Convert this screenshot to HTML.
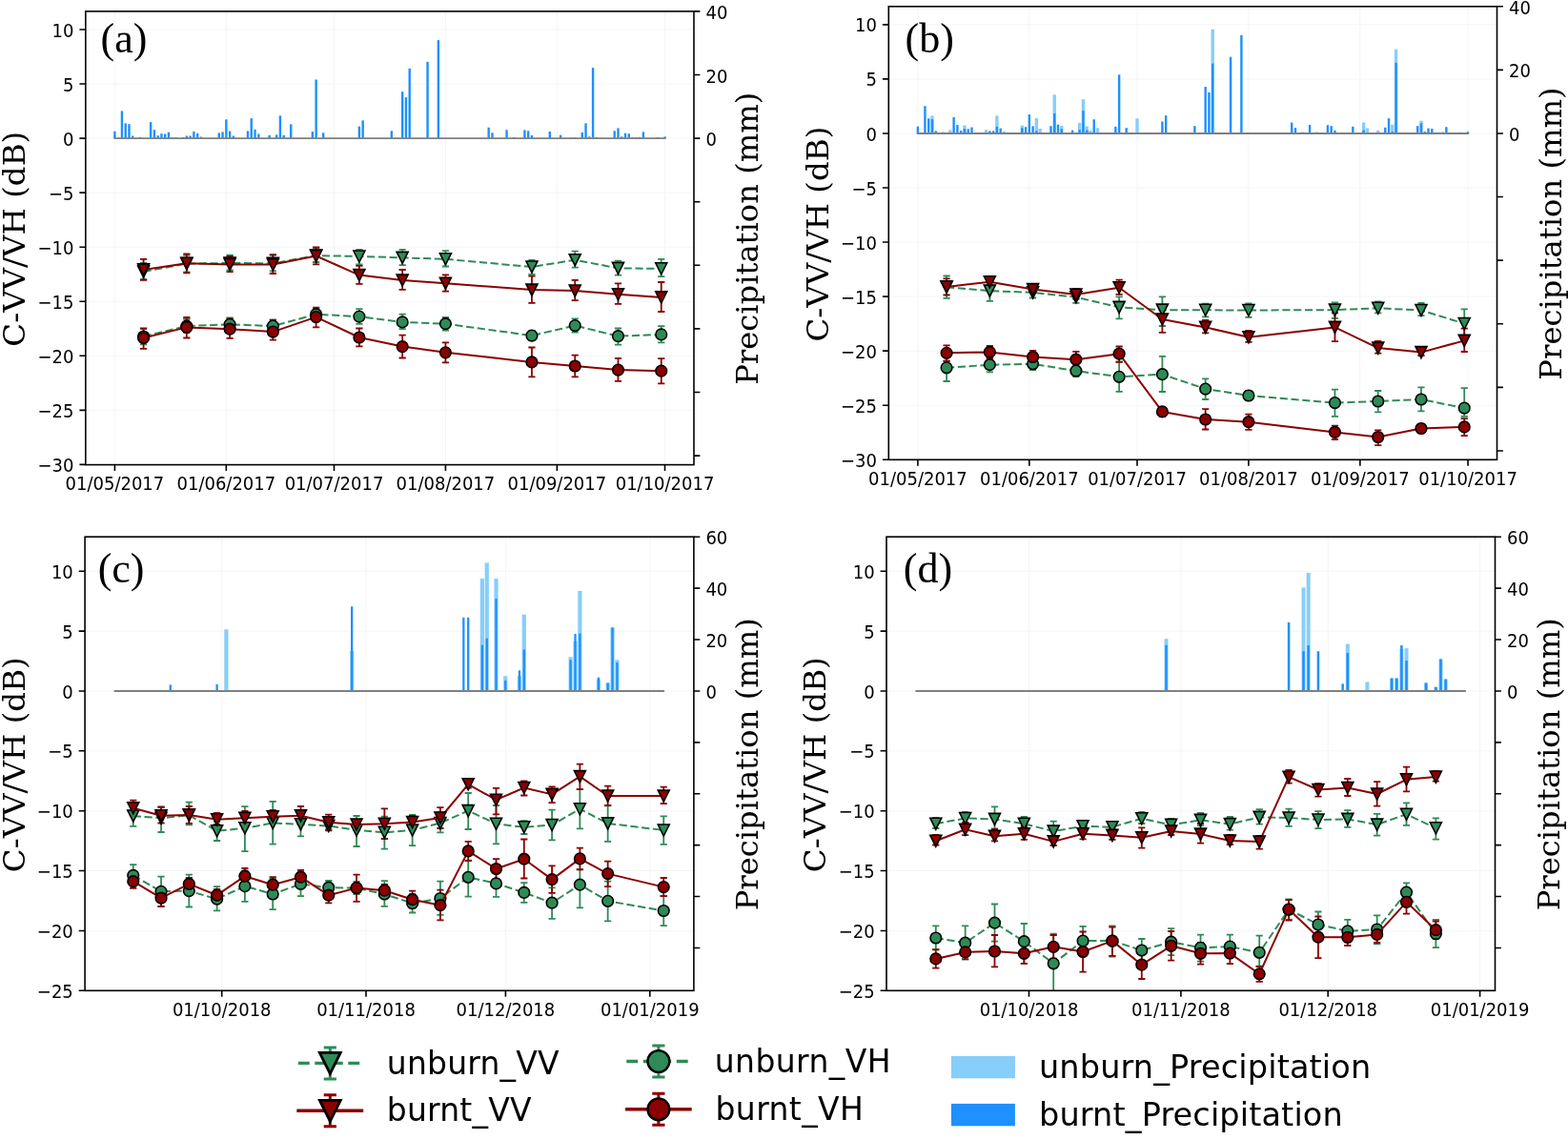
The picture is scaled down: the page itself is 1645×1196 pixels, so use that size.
<!DOCTYPE html><html><head><meta charset="utf-8"><title>C-VV/VH backscatter and precipitation</title>
<style>html,body{margin:0;padding:0;background:#fff;}svg{display:block;}</style></head><body>
<svg width="1645" height="1196" viewBox="0 0 1645 1196">
<rect width="1645" height="1196" fill="#fff"/>
<g id="panel-a">
<defs><clipPath id="clip-a"><rect x="89.8" y="11.9" width="638.2" height="475.7"/></clipPath></defs>
<path d="M89.8 31H728M89.8 88.05H728M89.8 145.1H728M89.8 202.15H728M89.8 259.2H728M89.8 316.25H728M89.8 373.3H728M89.8 430.35H728M120.4 11.9V487.6M237.33 11.9V487.6M350.49 11.9V487.6M467.42 11.9V487.6M584.36 11.9V487.6M697.52 11.9V487.6" stroke="#f5f5f5" stroke-width="1" fill="none"/>
<g clip-path="url(#clip-a)">
<rect x="119.2" y="137.8" width="2.4" height="7.3" fill="#1e90ff"/>
<rect x="122.97" y="144.5" width="2.4" height="0.6" fill="#1e90ff"/>
<rect x="126.74" y="116.4" width="2.4" height="28.7" fill="#1e90ff"/>
<rect x="130.52" y="129.4" width="2.4" height="15.7" fill="#1e90ff"/>
<rect x="134.29" y="130.2" width="2.4" height="14.9" fill="#1e90ff"/>
<rect x="138.06" y="142.5" width="2.4" height="2.6" fill="#1e90ff"/>
<rect x="145.6" y="143.8" width="2.4" height="1.3" fill="#1e90ff"/>
<rect x="156.92" y="128.1" width="2.4" height="17" fill="#1e90ff"/>
<rect x="160.69" y="136.2" width="2.4" height="8.9" fill="#1e90ff"/>
<rect x="164.46" y="142.2" width="2.4" height="2.9" fill="#1e90ff"/>
<rect x="168.24" y="140.2" width="2.4" height="4.9" fill="#1e90ff"/>
<rect x="172.01" y="140.5" width="2.4" height="4.6" fill="#1e90ff"/>
<rect x="175.78" y="138.7" width="2.4" height="6.4" fill="#1e90ff"/>
<rect x="179.55" y="144.1" width="2.4" height="1" fill="#1e90ff"/>
<rect x="183.32" y="144.1" width="2.4" height="1" fill="#1e90ff"/>
<rect x="190.87" y="144.1" width="2.4" height="1" fill="#1e90ff"/>
<rect x="194.64" y="142.5" width="2.4" height="2.6" fill="#1e90ff"/>
<rect x="198.41" y="142.5" width="2.4" height="2.6" fill="#1e90ff"/>
<rect x="202.18" y="138" width="2.4" height="7.1" fill="#1e90ff"/>
<rect x="205.96" y="139.8" width="2.4" height="5.3" fill="#1e90ff"/>
<rect x="209.73" y="143.5" width="2.4" height="1.6" fill="#1e90ff"/>
<rect x="228.59" y="139.4" width="2.4" height="5.7" fill="#1e90ff"/>
<rect x="232.36" y="138.4" width="2.4" height="6.7" fill="#1e90ff"/>
<rect x="236.13" y="125.3" width="2.4" height="19.8" fill="#1e90ff"/>
<rect x="239.9" y="137.5" width="2.4" height="7.6" fill="#1e90ff"/>
<rect x="243.68" y="142.5" width="2.4" height="2.6" fill="#1e90ff"/>
<rect x="258.76" y="137.4" width="2.4" height="7.7" fill="#1e90ff"/>
<rect x="262.54" y="124.1" width="2.4" height="21" fill="#1e90ff"/>
<rect x="266.31" y="135.8" width="2.4" height="9.3" fill="#1e90ff"/>
<rect x="270.08" y="140.5" width="2.4" height="4.6" fill="#1e90ff"/>
<rect x="281.4" y="141.8" width="2.4" height="3.3" fill="#1e90ff"/>
<rect x="288.94" y="141.4" width="2.4" height="3.7" fill="#1e90ff"/>
<rect x="292.71" y="121.3" width="2.4" height="23.8" fill="#1e90ff"/>
<rect x="296.48" y="141.8" width="2.4" height="3.3" fill="#1e90ff"/>
<rect x="304.03" y="130.4" width="2.4" height="14.7" fill="#1e90ff"/>
<rect x="326.66" y="138" width="2.4" height="7.1" fill="#1e90ff"/>
<rect x="330.43" y="83.5" width="2.4" height="61.6" fill="#1e90ff"/>
<rect x="337.98" y="139.3" width="2.4" height="5.8" fill="#1e90ff"/>
<rect x="375.7" y="132.6" width="2.4" height="12.5" fill="#1e90ff"/>
<rect x="379.47" y="126.3" width="2.4" height="18.8" fill="#1e90ff"/>
<rect x="409.64" y="137.3" width="2.4" height="7.8" fill="#1e90ff"/>
<rect x="420.96" y="96.2" width="2.4" height="48.9" fill="#1e90ff"/>
<rect x="424.73" y="102.1" width="2.4" height="43" fill="#1e90ff"/>
<rect x="428.5" y="71.8" width="2.4" height="73.3" fill="#1e90ff"/>
<rect x="447.36" y="64.8" width="2.4" height="80.3" fill="#1e90ff"/>
<rect x="458.68" y="42.1" width="2.4" height="103" fill="#1e90ff"/>
<rect x="511.49" y="133.7" width="2.4" height="11.4" fill="#1e90ff"/>
<rect x="515.26" y="139.3" width="2.4" height="5.8" fill="#1e90ff"/>
<rect x="530.35" y="136.2" width="2.4" height="8.9" fill="#1e90ff"/>
<rect x="537.89" y="144.2" width="2.4" height="0.9" fill="#1e90ff"/>
<rect x="549.21" y="136.4" width="2.4" height="8.7" fill="#1e90ff"/>
<rect x="552.98" y="137.3" width="2.4" height="7.8" fill="#1e90ff"/>
<rect x="556.75" y="142" width="2.4" height="3.1" fill="#1e90ff"/>
<rect x="575.61" y="138" width="2.4" height="7.1" fill="#1e90ff"/>
<rect x="586.93" y="141.7" width="2.4" height="3.4" fill="#1e90ff"/>
<rect x="598.24" y="144.3" width="2.4" height="0.8" fill="#1e90ff"/>
<rect x="602.02" y="144.3" width="2.4" height="0.8" fill="#1e90ff"/>
<rect x="609.56" y="138.9" width="2.4" height="6.2" fill="#1e90ff"/>
<rect x="613.33" y="129.3" width="2.4" height="15.8" fill="#1e90ff"/>
<rect x="617.1" y="143.3" width="2.4" height="1.8" fill="#1e90ff"/>
<rect x="620.88" y="71.1" width="2.4" height="74" fill="#1e90ff"/>
<rect x="624.65" y="144" width="2.4" height="1.1" fill="#1e90ff"/>
<rect x="643.51" y="137.3" width="2.4" height="7.8" fill="#1e90ff"/>
<rect x="647.28" y="134.4" width="2.4" height="10.7" fill="#1e90ff"/>
<rect x="651.05" y="143.3" width="2.4" height="1.8" fill="#1e90ff"/>
<rect x="654.82" y="139.7" width="2.4" height="5.4" fill="#1e90ff"/>
<rect x="658.6" y="140.2" width="2.4" height="4.9" fill="#1e90ff"/>
<rect x="662.37" y="144" width="2.4" height="1.1" fill="#1e90ff"/>
<rect x="666.14" y="144" width="2.4" height="1.1" fill="#1e90ff"/>
<rect x="669.91" y="143.8" width="2.4" height="1.3" fill="#1e90ff"/>
<rect x="673.68" y="138.4" width="2.4" height="6.7" fill="#1e90ff"/>
<rect x="688.77" y="144" width="2.4" height="1.1" fill="#1e90ff"/>
<rect x="696.32" y="143.3" width="2.4" height="1.8" fill="#1e90ff"/>
<line x1="119.3" y1="145.1" x2="698.6" y2="145.1" stroke="#808080" stroke-width="1.9"/>
<path d="M150.58 276V292.9M146.98 276H154.18M146.98 292.9H154.18M195.84 267.8V285.4M192.24 267.8H199.44M192.24 285.4H199.44M241.1 267.7V283.4M237.5 267.7H244.7M237.5 283.4H244.7M286.37 267V284.3M282.77 267H289.97M282.77 284.3H289.97M331.63 260V275M328.03 260H335.23M328.03 275H335.23M376.9 261.9V277.4M373.3 261.9H380.5M373.3 277.4H380.5M422.16 261.9V278.1M418.56 261.9H425.76M418.56 278.1H425.76M467.42 263.1V279.5M463.82 263.1H471.02M463.82 279.5H471.02M557.95 272.8V287.9M554.35 272.8H561.55M554.35 287.9H561.55M603.22 263.7V280.6M599.62 263.7H606.82M599.62 280.6H606.82M648.48 273.7V288.7M644.88 273.7H652.08M644.88 288.7H652.08M693.74 271.9V290.1M690.14 271.9H697.34M690.14 290.1H697.34" stroke="#2e8b57" stroke-width="1.8" fill="none"/>
<path d="M150.58 271.9V293.8M146.98 271.9H154.18M146.98 293.8H154.18M195.84 266.3V286.3M192.24 266.3H199.44M192.24 286.3H199.44M241.1 268.8V285.2M237.5 268.8H244.7M237.5 285.2H244.7M286.37 267.7V287M282.77 267.7H289.97M282.77 287H289.97M331.63 259.5V277.4M328.03 259.5H335.23M328.03 277.4H335.23M376.9 278.8V297.8M373.3 278.8H380.5M373.3 297.8H380.5M422.16 283V303.8M418.56 283H425.76M418.56 303.8H425.76M467.42 288.3V305.6M463.82 288.3H471.02M463.82 305.6H471.02M557.95 289.6V317.8M554.35 289.6H561.55M554.35 317.8H561.55M603.22 293.8V315.1M599.62 293.8H606.82M599.62 315.1H606.82M648.48 297.4V318.9M644.88 297.4H652.08M644.88 318.9H652.08M693.74 296V327M690.14 296H697.34M690.14 327H697.34" stroke="#8b0000" stroke-width="1.8" fill="none"/>
<path d="M150.58 345V361.3M146.98 345H154.18M146.98 361.3H154.18M195.84 335V349M192.24 335H199.44M192.24 349H199.44M241.1 333.5V347M237.5 333.5H244.7M237.5 347H244.7M286.37 335.7V348.5M282.77 335.7H289.97M282.77 348.5H289.97M331.63 323V336M328.03 323H335.23M328.03 336H335.23M376.9 324.2V339.9M373.3 324.2H380.5M373.3 339.9H380.5M422.16 329.7V345.2M418.56 329.7H425.76M418.56 345.2H425.76M467.42 333V346.7M463.82 333H471.02M463.82 346.7H471.02M557.95 347V357M554.35 347H561.55M554.35 357H561.55M603.22 334.4V348.5M599.62 334.4H606.82M599.62 348.5H606.82M648.48 344.5V361.6M644.88 344.5H652.08M644.88 361.6H652.08M693.74 342.1V359.4M690.14 342.1H697.34M690.14 359.4H697.34" stroke="#2e8b57" stroke-width="1.8" fill="none"/>
<path d="M150.58 344.3V365.8M146.98 344.3H154.18M146.98 365.8H154.18M195.84 333V354.5M192.24 333H199.44M192.24 354.5H199.44M241.1 334.3V354.9M237.5 334.3H244.7M237.5 354.9H244.7M286.37 335.7V356.7M282.77 335.7H289.97M282.77 356.7H289.97M331.63 322.6V343.4M328.03 322.6H335.23M328.03 343.4H335.23M376.9 344.5V363.4M373.3 344.5H380.5M373.3 363.4H380.5M422.16 351.6V375.5M418.56 351.6H425.76M418.56 375.5H425.76M467.42 359.4V380.4M463.82 359.4H471.02M463.82 380.4H471.02M557.95 364.5V395.4M554.35 364.5H561.55M554.35 395.4H561.55M603.22 372.7V395.4M599.62 372.7H606.82M599.62 395.4H606.82M648.48 375.8V399.9M644.88 375.8H652.08M644.88 399.9H652.08M693.74 376.2V402.3M690.14 376.2H697.34M690.14 402.3H697.34" stroke="#8b0000" stroke-width="1.8" fill="none"/>
<polyline points="150.58,285 195.84,276.6 241.1,276 286.37,276.3 331.63,268.1 376.9,269 422.16,270.4 467.42,271.8 557.95,280 603.22,272.7 648.48,281.4 693.74,281.8" stroke="#2e8b57" stroke-width="2.0" fill="none" stroke-linejoin="round" stroke-dasharray="8.2,3.6"/>
<polygon points="144.58,279 156.58,279 150.58,291" fill="#2e8b57" stroke="#000" stroke-width="1.6" stroke-linejoin="miter"/>
<polygon points="189.84,270.6 201.84,270.6 195.84,282.6" fill="#2e8b57" stroke="#000" stroke-width="1.6" stroke-linejoin="miter"/>
<polygon points="235.1,270 247.1,270 241.1,282" fill="#2e8b57" stroke="#000" stroke-width="1.6" stroke-linejoin="miter"/>
<polygon points="280.37,270.3 292.37,270.3 286.37,282.3" fill="#2e8b57" stroke="#000" stroke-width="1.6" stroke-linejoin="miter"/>
<polygon points="325.63,262.1 337.63,262.1 331.63,274.1" fill="#2e8b57" stroke="#000" stroke-width="1.6" stroke-linejoin="miter"/>
<polygon points="370.9,263 382.9,263 376.9,275" fill="#2e8b57" stroke="#000" stroke-width="1.6" stroke-linejoin="miter"/>
<polygon points="416.16,264.4 428.16,264.4 422.16,276.4" fill="#2e8b57" stroke="#000" stroke-width="1.6" stroke-linejoin="miter"/>
<polygon points="461.42,265.8 473.42,265.8 467.42,277.8" fill="#2e8b57" stroke="#000" stroke-width="1.6" stroke-linejoin="miter"/>
<polygon points="551.95,274 563.95,274 557.95,286" fill="#2e8b57" stroke="#000" stroke-width="1.6" stroke-linejoin="miter"/>
<polygon points="597.22,266.7 609.22,266.7 603.22,278.7" fill="#2e8b57" stroke="#000" stroke-width="1.6" stroke-linejoin="miter"/>
<polygon points="642.48,275.4 654.48,275.4 648.48,287.4" fill="#2e8b57" stroke="#000" stroke-width="1.6" stroke-linejoin="miter"/>
<polygon points="687.74,275.8 699.74,275.8 693.74,287.8" fill="#2e8b57" stroke="#000" stroke-width="1.6" stroke-linejoin="miter"/>
<polyline points="150.58,282.9 195.84,276.3 241.1,277.4 286.37,277.6 331.63,268.5 376.9,288.6 422.16,294 467.42,297.3 557.95,304.1 603.22,305 648.48,308.8 693.74,311.9" stroke="#8b0000" stroke-width="2.0" fill="none" stroke-linejoin="round"/>
<polygon points="144.58,276.9 156.58,276.9 150.58,288.9" fill="#8b0000" stroke="#000" stroke-width="1.6" stroke-linejoin="miter"/>
<polygon points="189.84,270.3 201.84,270.3 195.84,282.3" fill="#8b0000" stroke="#000" stroke-width="1.6" stroke-linejoin="miter"/>
<polygon points="235.1,271.4 247.1,271.4 241.1,283.4" fill="#8b0000" stroke="#000" stroke-width="1.6" stroke-linejoin="miter"/>
<polygon points="280.37,271.6 292.37,271.6 286.37,283.6" fill="#8b0000" stroke="#000" stroke-width="1.6" stroke-linejoin="miter"/>
<polygon points="325.63,262.5 337.63,262.5 331.63,274.5" fill="#8b0000" stroke="#000" stroke-width="1.6" stroke-linejoin="miter"/>
<polygon points="370.9,282.6 382.9,282.6 376.9,294.6" fill="#8b0000" stroke="#000" stroke-width="1.6" stroke-linejoin="miter"/>
<polygon points="416.16,288 428.16,288 422.16,300" fill="#8b0000" stroke="#000" stroke-width="1.6" stroke-linejoin="miter"/>
<polygon points="461.42,291.3 473.42,291.3 467.42,303.3" fill="#8b0000" stroke="#000" stroke-width="1.6" stroke-linejoin="miter"/>
<polygon points="551.95,298.1 563.95,298.1 557.95,310.1" fill="#8b0000" stroke="#000" stroke-width="1.6" stroke-linejoin="miter"/>
<polygon points="597.22,299 609.22,299 603.22,311" fill="#8b0000" stroke="#000" stroke-width="1.6" stroke-linejoin="miter"/>
<polygon points="642.48,302.8 654.48,302.8 648.48,314.8" fill="#8b0000" stroke="#000" stroke-width="1.6" stroke-linejoin="miter"/>
<polygon points="687.74,305.9 699.74,305.9 693.74,317.9" fill="#8b0000" stroke="#000" stroke-width="1.6" stroke-linejoin="miter"/>
<polyline points="150.58,353 195.84,342.1 241.1,340.3 286.37,342.1 331.63,329.7 376.9,332.1 422.16,337.9 467.42,339.7 557.95,352.1 603.22,341.6 648.48,352.7 693.74,350.9" stroke="#2e8b57" stroke-width="2.0" fill="none" stroke-linejoin="round" stroke-dasharray="8.2,3.6"/>
<circle cx="150.58" cy="353" r="5.8" fill="#2e8b57" stroke="#000" stroke-width="1.6"/>
<circle cx="195.84" cy="342.1" r="5.8" fill="#2e8b57" stroke="#000" stroke-width="1.6"/>
<circle cx="241.1" cy="340.3" r="5.8" fill="#2e8b57" stroke="#000" stroke-width="1.6"/>
<circle cx="286.37" cy="342.1" r="5.8" fill="#2e8b57" stroke="#000" stroke-width="1.6"/>
<circle cx="331.63" cy="329.7" r="5.8" fill="#2e8b57" stroke="#000" stroke-width="1.6"/>
<circle cx="376.9" cy="332.1" r="5.8" fill="#2e8b57" stroke="#000" stroke-width="1.6"/>
<circle cx="422.16" cy="337.9" r="5.8" fill="#2e8b57" stroke="#000" stroke-width="1.6"/>
<circle cx="467.42" cy="339.7" r="5.8" fill="#2e8b57" stroke="#000" stroke-width="1.6"/>
<circle cx="557.95" cy="352.1" r="5.8" fill="#2e8b57" stroke="#000" stroke-width="1.6"/>
<circle cx="603.22" cy="341.6" r="5.8" fill="#2e8b57" stroke="#000" stroke-width="1.6"/>
<circle cx="648.48" cy="352.7" r="5.8" fill="#2e8b57" stroke="#000" stroke-width="1.6"/>
<circle cx="693.74" cy="350.9" r="5.8" fill="#2e8b57" stroke="#000" stroke-width="1.6"/>
<polyline points="150.58,354.5 195.84,343.4 241.1,345.2 286.37,348.1 331.63,332.6 376.9,354 422.16,363.6 467.42,369.8 557.95,379.9 603.22,384 648.48,388.1 693.74,389.2" stroke="#8b0000" stroke-width="2.0" fill="none" stroke-linejoin="round"/>
<circle cx="150.58" cy="354.5" r="5.8" fill="#8b0000" stroke="#000" stroke-width="1.6"/>
<circle cx="195.84" cy="343.4" r="5.8" fill="#8b0000" stroke="#000" stroke-width="1.6"/>
<circle cx="241.1" cy="345.2" r="5.8" fill="#8b0000" stroke="#000" stroke-width="1.6"/>
<circle cx="286.37" cy="348.1" r="5.8" fill="#8b0000" stroke="#000" stroke-width="1.6"/>
<circle cx="331.63" cy="332.6" r="5.8" fill="#8b0000" stroke="#000" stroke-width="1.6"/>
<circle cx="376.9" cy="354" r="5.8" fill="#8b0000" stroke="#000" stroke-width="1.6"/>
<circle cx="422.16" cy="363.6" r="5.8" fill="#8b0000" stroke="#000" stroke-width="1.6"/>
<circle cx="467.42" cy="369.8" r="5.8" fill="#8b0000" stroke="#000" stroke-width="1.6"/>
<circle cx="557.95" cy="379.9" r="5.8" fill="#8b0000" stroke="#000" stroke-width="1.6"/>
<circle cx="603.22" cy="384" r="5.8" fill="#8b0000" stroke="#000" stroke-width="1.6"/>
<circle cx="648.48" cy="388.1" r="5.8" fill="#8b0000" stroke="#000" stroke-width="1.6"/>
<circle cx="693.74" cy="389.2" r="5.8" fill="#8b0000" stroke="#000" stroke-width="1.6"/>
</g>
<rect x="89.8" y="11.9" width="638.2" height="475.7" fill="none" stroke="#000" stroke-width="1.6"/>
<path d="M83.4 31H89.8M83.4 88.05H89.8M83.4 145.1H89.8M83.4 202.15H89.8M83.4 259.2H89.8M83.4 316.25H89.8M83.4 373.3H89.8M83.4 430.35H89.8M83.4 487.4H89.8M728 11.9H734.4M728 78.5H734.4M728 145.1H734.4M728 211.7H734.4M728 278.3H734.4M728 344.9H734.4M728 411.5H734.4M728 478.1H734.4M120.4 487.6V494M237.33 487.6V494M350.49 487.6V494M467.42 487.6V494M584.36 487.6V494M697.52 487.6V494" stroke="#000" stroke-width="1.6" fill="none"/>
<g style="font-family:'DejaVu Sans',sans-serif;font-size:18px" fill="#000">
<text transform="translate(77.5 31.5) scale(1 1.08)" y="6.56" text-anchor="end">10</text>
<text transform="translate(77.5 88.55) scale(1 1.08)" y="6.56" text-anchor="end">5</text>
<text transform="translate(77.5 145.6) scale(1 1.08)" y="6.56" text-anchor="end">0</text>
<text transform="translate(77.5 202.65) scale(1 1.08)" y="6.56" text-anchor="end">−5</text>
<text transform="translate(77.5 259.7) scale(1 1.08)" y="6.56" text-anchor="end">−10</text>
<text transform="translate(77.5 316.75) scale(1 1.08)" y="6.56" text-anchor="end">−15</text>
<text transform="translate(77.5 373.8) scale(1 1.08)" y="6.56" text-anchor="end">−20</text>
<text transform="translate(77.5 430.85) scale(1 1.08)" y="6.56" text-anchor="end">−25</text>
<text transform="translate(77.5 487.9) scale(1 1.08)" y="6.56" text-anchor="end">−30</text>
<text transform="translate(740.5 12.9) scale(1 1.08)" y="6.56">40</text>
<text transform="translate(740.5 79.5) scale(1 1.08)" y="6.56">20</text>
<text transform="translate(740.5 146.1) scale(1 1.08)" y="6.56">0</text>
<text transform="translate(120.4 507.4) scale(1 1.08)" y="6.56" text-anchor="middle">01/05/2017</text>
<text transform="translate(237.33 507.4) scale(1 1.08)" y="6.56" text-anchor="middle">01/06/2017</text>
<text transform="translate(350.49 507.4) scale(1 1.08)" y="6.56" text-anchor="middle">01/07/2017</text>
<text transform="translate(467.42 507.4) scale(1 1.08)" y="6.56" text-anchor="middle">01/08/2017</text>
<text transform="translate(584.36 507.4) scale(1 1.08)" y="6.56" text-anchor="middle">01/09/2017</text>
<text transform="translate(697.52 507.4) scale(1 1.08)" y="6.56" text-anchor="middle">01/10/2017</text>
</g>
<text transform="translate(26.3 250.75) rotate(-90)" text-anchor="middle" style="font-family:'DejaVu Serif',serif;font-size:32.5px;font-kerning:none">C-VV/VH (dB)</text>
<text transform="translate(795 250.25) rotate(-90)" text-anchor="middle" style="font-family:'DejaVu Serif',serif;font-size:32.2px;font-kerning:none">Precipitation (mm)</text>
<text x="105.6" y="55.2" style="font-family:'Liberation Serif','DejaVu Serif',serif;font-size:44px">(a)</text>
</g>
<g id="panel-b">
<defs><clipPath id="clip-b"><rect x="932.3" y="6.8" width="638.2" height="475.5"/></clipPath></defs>
<path d="M932.3 25.85H1570.5M932.3 82.9H1570.5M932.3 139.95H1570.5M932.3 197H1570.5M932.3 254.05H1570.5M932.3 311.1H1570.5M932.3 368.15H1570.5M932.3 425.2H1570.5M962.9 6.8V482.3M1079.83 6.8V482.3M1192.99 6.8V482.3M1309.92 6.8V482.3M1426.86 6.8V482.3M1540.02 6.8V482.3" stroke="#f5f5f5" stroke-width="1" fill="none"/>
<g clip-path="url(#clip-b)">
<rect x="976.29" y="121.45" width="3.4" height="18.5" fill="#87cefa"/>
<rect x="995.15" y="136.45" width="3.4" height="3.5" fill="#87cefa"/>
<rect x="1010.24" y="131.45" width="3.4" height="8.5" fill="#87cefa"/>
<rect x="1032.87" y="136.25" width="3.4" height="3.7" fill="#87cefa"/>
<rect x="1044.18" y="121.45" width="3.4" height="18.5" fill="#87cefa"/>
<rect x="1070.59" y="131.55" width="3.4" height="8.4" fill="#87cefa"/>
<rect x="1085.68" y="123.95" width="3.4" height="16" fill="#87cefa"/>
<rect x="1089.45" y="134.95" width="3.4" height="5" fill="#87cefa"/>
<rect x="1104.54" y="99.35" width="3.4" height="40.6" fill="#87cefa"/>
<rect x="1112.08" y="132.05" width="3.4" height="7.9" fill="#87cefa"/>
<rect x="1130.94" y="128.85" width="3.4" height="11.1" fill="#87cefa"/>
<rect x="1134.71" y="104.15" width="3.4" height="35.8" fill="#87cefa"/>
<rect x="1138.48" y="132.45" width="3.4" height="7.5" fill="#87cefa"/>
<rect x="1142.26" y="136.75" width="3.4" height="3.2" fill="#87cefa"/>
<rect x="1149.8" y="134.25" width="3.4" height="5.7" fill="#87cefa"/>
<rect x="1191.29" y="124.25" width="3.4" height="15.7" fill="#87cefa"/>
<rect x="1270.5" y="30.75" width="3.4" height="109.2" fill="#87cefa"/>
<rect x="1364.8" y="138.45" width="3.4" height="1.5" fill="#87cefa"/>
<rect x="1379.89" y="138.45" width="3.4" height="1.5" fill="#87cefa"/>
<rect x="1428.93" y="128.45" width="3.4" height="11.5" fill="#87cefa"/>
<rect x="1432.7" y="134.45" width="3.4" height="5.5" fill="#87cefa"/>
<rect x="1444.02" y="136.75" width="3.4" height="3.2" fill="#87cefa"/>
<rect x="1459.1" y="130.75" width="3.4" height="9.2" fill="#87cefa"/>
<rect x="1462.88" y="51.65" width="3.4" height="88.3" fill="#87cefa"/>
<rect x="1489.28" y="126.65" width="3.4" height="13.3" fill="#87cefa"/>
<rect x="961.7" y="132.65" width="2.4" height="7.3" fill="#1e90ff"/>
<rect x="965.47" y="139.35" width="2.4" height="0.6" fill="#1e90ff"/>
<rect x="969.24" y="111.25" width="2.4" height="28.7" fill="#1e90ff"/>
<rect x="973.02" y="124.25" width="2.4" height="15.7" fill="#1e90ff"/>
<rect x="976.79" y="125.05" width="2.4" height="14.9" fill="#1e90ff"/>
<rect x="980.56" y="137.35" width="2.4" height="2.6" fill="#1e90ff"/>
<rect x="988.1" y="138.65" width="2.4" height="1.3" fill="#1e90ff"/>
<rect x="999.42" y="122.95" width="2.4" height="17" fill="#1e90ff"/>
<rect x="1003.19" y="131.05" width="2.4" height="8.9" fill="#1e90ff"/>
<rect x="1006.96" y="137.05" width="2.4" height="2.9" fill="#1e90ff"/>
<rect x="1010.74" y="135.05" width="2.4" height="4.9" fill="#1e90ff"/>
<rect x="1014.51" y="135.35" width="2.4" height="4.6" fill="#1e90ff"/>
<rect x="1018.28" y="133.55" width="2.4" height="6.4" fill="#1e90ff"/>
<rect x="1022.05" y="138.95" width="2.4" height="1" fill="#1e90ff"/>
<rect x="1025.82" y="138.95" width="2.4" height="1" fill="#1e90ff"/>
<rect x="1033.37" y="138.95" width="2.4" height="1" fill="#1e90ff"/>
<rect x="1037.14" y="137.35" width="2.4" height="2.6" fill="#1e90ff"/>
<rect x="1040.91" y="137.35" width="2.4" height="2.6" fill="#1e90ff"/>
<rect x="1044.68" y="132.85" width="2.4" height="7.1" fill="#1e90ff"/>
<rect x="1048.46" y="134.65" width="2.4" height="5.3" fill="#1e90ff"/>
<rect x="1052.23" y="138.35" width="2.4" height="1.6" fill="#1e90ff"/>
<rect x="1071.09" y="134.25" width="2.4" height="5.7" fill="#1e90ff"/>
<rect x="1074.86" y="133.25" width="2.4" height="6.7" fill="#1e90ff"/>
<rect x="1078.63" y="120.15" width="2.4" height="19.8" fill="#1e90ff"/>
<rect x="1082.4" y="132.35" width="2.4" height="7.6" fill="#1e90ff"/>
<rect x="1086.18" y="137.35" width="2.4" height="2.6" fill="#1e90ff"/>
<rect x="1101.26" y="132.25" width="2.4" height="7.7" fill="#1e90ff"/>
<rect x="1105.04" y="118.95" width="2.4" height="21" fill="#1e90ff"/>
<rect x="1108.81" y="130.65" width="2.4" height="9.3" fill="#1e90ff"/>
<rect x="1112.58" y="135.35" width="2.4" height="4.6" fill="#1e90ff"/>
<rect x="1123.9" y="136.65" width="2.4" height="3.3" fill="#1e90ff"/>
<rect x="1131.44" y="136.25" width="2.4" height="3.7" fill="#1e90ff"/>
<rect x="1135.21" y="116.15" width="2.4" height="23.8" fill="#1e90ff"/>
<rect x="1138.98" y="136.65" width="2.4" height="3.3" fill="#1e90ff"/>
<rect x="1146.53" y="125.25" width="2.4" height="14.7" fill="#1e90ff"/>
<rect x="1169.16" y="132.85" width="2.4" height="7.1" fill="#1e90ff"/>
<rect x="1172.93" y="78.35" width="2.4" height="61.6" fill="#1e90ff"/>
<rect x="1180.48" y="134.15" width="2.4" height="5.8" fill="#1e90ff"/>
<rect x="1218.2" y="127.45" width="2.4" height="12.5" fill="#1e90ff"/>
<rect x="1221.97" y="121.15" width="2.4" height="18.8" fill="#1e90ff"/>
<rect x="1252.14" y="132.15" width="2.4" height="7.8" fill="#1e90ff"/>
<rect x="1263.46" y="91.05" width="2.4" height="48.9" fill="#1e90ff"/>
<rect x="1267.23" y="96.95" width="2.4" height="43" fill="#1e90ff"/>
<rect x="1271" y="66.65" width="2.4" height="73.3" fill="#1e90ff"/>
<rect x="1289.86" y="59.65" width="2.4" height="80.3" fill="#1e90ff"/>
<rect x="1301.18" y="36.95" width="2.4" height="103" fill="#1e90ff"/>
<rect x="1353.99" y="128.55" width="2.4" height="11.4" fill="#1e90ff"/>
<rect x="1357.76" y="134.15" width="2.4" height="5.8" fill="#1e90ff"/>
<rect x="1372.85" y="131.05" width="2.4" height="8.9" fill="#1e90ff"/>
<rect x="1380.39" y="139.05" width="2.4" height="0.9" fill="#1e90ff"/>
<rect x="1391.71" y="131.25" width="2.4" height="8.7" fill="#1e90ff"/>
<rect x="1395.48" y="132.15" width="2.4" height="7.8" fill="#1e90ff"/>
<rect x="1399.25" y="136.85" width="2.4" height="3.1" fill="#1e90ff"/>
<rect x="1418.11" y="132.85" width="2.4" height="7.1" fill="#1e90ff"/>
<rect x="1429.43" y="136.55" width="2.4" height="3.4" fill="#1e90ff"/>
<rect x="1440.74" y="139.15" width="2.4" height="0.8" fill="#1e90ff"/>
<rect x="1444.52" y="139.15" width="2.4" height="0.8" fill="#1e90ff"/>
<rect x="1452.06" y="133.75" width="2.4" height="6.2" fill="#1e90ff"/>
<rect x="1455.83" y="124.15" width="2.4" height="15.8" fill="#1e90ff"/>
<rect x="1459.6" y="138.15" width="2.4" height="1.8" fill="#1e90ff"/>
<rect x="1463.38" y="65.95" width="2.4" height="74" fill="#1e90ff"/>
<rect x="1467.15" y="138.85" width="2.4" height="1.1" fill="#1e90ff"/>
<rect x="1486.01" y="132.15" width="2.4" height="7.8" fill="#1e90ff"/>
<rect x="1489.78" y="129.25" width="2.4" height="10.7" fill="#1e90ff"/>
<rect x="1493.55" y="138.15" width="2.4" height="1.8" fill="#1e90ff"/>
<rect x="1497.32" y="134.55" width="2.4" height="5.4" fill="#1e90ff"/>
<rect x="1501.1" y="135.05" width="2.4" height="4.9" fill="#1e90ff"/>
<rect x="1504.87" y="138.85" width="2.4" height="1.1" fill="#1e90ff"/>
<rect x="1508.64" y="138.85" width="2.4" height="1.1" fill="#1e90ff"/>
<rect x="1512.41" y="138.65" width="2.4" height="1.3" fill="#1e90ff"/>
<rect x="1516.18" y="133.25" width="2.4" height="6.7" fill="#1e90ff"/>
<rect x="1531.27" y="138.85" width="2.4" height="1.1" fill="#1e90ff"/>
<rect x="1538.82" y="138.15" width="2.4" height="1.8" fill="#1e90ff"/>
<line x1="961.8" y1="139.95" x2="1541.1" y2="139.95" stroke="#808080" stroke-width="1.9"/>
<path d="M993.08 289.5V312.8M989.48 289.5H996.68M989.48 312.8H996.68M1038.34 296V315.9M1034.74 296H1041.94M1034.74 315.9H1041.94M1083.6 299V312.5M1080 299H1087.2M1080 312.5H1087.2M1128.87 304V317.8M1125.27 304H1132.47M1125.27 317.8H1132.47M1174.13 311.4V334.3M1170.53 311.4H1177.73M1170.53 334.3H1177.73M1219.4 311.4V342M1215.8 311.4H1223M1215.8 342H1223M1264.66 318.7V332.3M1261.06 318.7H1268.26M1261.06 332.3H1268.26M1309.92 318.3V332.9M1306.32 318.3H1313.52M1306.32 332.9H1313.52M1400.45 317.4V333.8M1396.85 317.4H1404.05M1396.85 333.8H1404.05M1445.72 316.5V328.3M1442.12 316.5H1449.32M1442.12 328.3H1449.32M1490.98 318V331.1M1487.38 318H1494.58M1487.38 331.1H1494.58M1536.24 324.3V353.1M1532.64 324.3H1539.84M1532.64 353.1H1539.84" stroke="#2e8b57" stroke-width="1.8" fill="none"/>
<path d="M993.08 292.4V309.5M989.48 292.4H996.68M989.48 309.5H996.68M1038.34 290.5V299.5M1034.74 290.5H1041.94M1034.74 299.5H1041.94M1083.6 298.2V307.4M1080 298.2H1087.2M1080 307.4H1087.2M1128.87 303V313.6M1125.27 303H1132.47M1125.27 313.6H1132.47M1174.13 293.7V308.8M1170.53 293.7H1177.73M1170.53 308.8H1177.73M1219.4 325.6V348.8M1215.8 325.6H1223M1215.8 348.8H1223M1264.66 336V349.3M1261.06 336H1268.26M1261.06 349.3H1268.26M1309.92 347V358.8M1306.32 347H1313.52M1306.32 358.8H1313.52M1400.45 328.3V358.1M1396.85 328.3H1404.05M1396.85 358.1H1404.05M1445.72 358V370.6M1442.12 358H1449.32M1442.12 370.6H1449.32M1490.98 364.6V373M1487.38 364.6H1494.58M1487.38 373H1494.58M1536.24 344.7V369M1532.64 344.7H1539.84M1532.64 369H1539.84" stroke="#8b0000" stroke-width="1.8" fill="none"/>
<path d="M993.08 378.5V400M989.48 378.5H996.68M989.48 400H996.68M1038.34 375V390.3M1034.74 375H1041.94M1034.74 390.3H1041.94M1083.6 376V388M1080 376H1087.2M1080 388H1087.2M1128.87 383V395M1125.27 383H1132.47M1125.27 395H1132.47M1174.13 379.4V410.8M1170.53 379.4H1177.73M1170.53 410.8H1177.73M1219.4 373.9V411M1215.8 373.9H1223M1215.8 411H1223M1264.66 397.3V419M1261.06 397.3H1268.26M1261.06 419H1268.26M1309.92 410V420M1306.32 410H1313.52M1306.32 420H1313.52M1400.45 408.6V436.8M1396.85 408.6H1404.05M1396.85 436.8H1404.05M1445.72 410V432.3M1442.12 410H1449.32M1442.12 432.3H1449.32M1490.98 406.4V431.4M1487.38 406.4H1494.58M1487.38 431.4H1494.58M1536.24 407.1V436.8M1532.64 407.1H1539.84M1532.64 436.8H1539.84" stroke="#2e8b57" stroke-width="1.8" fill="none"/>
<path d="M993.08 362.4V378.9M989.48 362.4H996.68M989.48 378.9H996.68M1038.34 363V376M1034.74 363H1041.94M1034.74 376H1041.94M1083.6 367.9V381M1080 367.9H1087.2M1080 381H1087.2M1128.87 368.8V385.5M1125.27 368.8H1132.47M1125.27 385.5H1132.47M1174.13 363.5V379.9M1170.53 363.5H1177.73M1170.53 379.9H1177.73M1219.4 427V437M1215.8 427H1223M1215.8 437H1223M1264.66 429.2V450.5M1261.06 429.2H1268.26M1261.06 450.5H1268.26M1309.92 434.7V450.9M1306.32 434.7H1313.52M1306.32 450.9H1313.52M1400.45 446.6V461M1396.85 446.6H1404.05M1396.85 461H1404.05M1445.72 451.4V467.1M1442.12 451.4H1449.32M1442.12 467.1H1449.32M1490.98 445V454M1487.38 445H1494.58M1487.38 454H1494.58M1536.24 439.1V457.2M1532.64 439.1H1539.84M1532.64 457.2H1539.84" stroke="#8b0000" stroke-width="1.8" fill="none"/>
<polyline points="993.08,301.2 1038.34,305.1 1083.6,306.9 1128.87,311.8 1174.13,322.4 1219.4,325.1 1264.66,325.3 1309.92,325.5 1400.45,325.1 1445.72,323.3 1490.98,325.5 1536.24,339.5" stroke="#2e8b57" stroke-width="2.0" fill="none" stroke-linejoin="round" stroke-dasharray="8.2,3.6"/>
<polygon points="987.08,295.2 999.08,295.2 993.08,307.2" fill="#2e8b57" stroke="#000" stroke-width="1.6" stroke-linejoin="miter"/>
<polygon points="1032.34,299.1 1044.34,299.1 1038.34,311.1" fill="#2e8b57" stroke="#000" stroke-width="1.6" stroke-linejoin="miter"/>
<polygon points="1077.6,300.9 1089.6,300.9 1083.6,312.9" fill="#2e8b57" stroke="#000" stroke-width="1.6" stroke-linejoin="miter"/>
<polygon points="1122.87,305.8 1134.87,305.8 1128.87,317.8" fill="#2e8b57" stroke="#000" stroke-width="1.6" stroke-linejoin="miter"/>
<polygon points="1168.13,316.4 1180.13,316.4 1174.13,328.4" fill="#2e8b57" stroke="#000" stroke-width="1.6" stroke-linejoin="miter"/>
<polygon points="1213.4,319.1 1225.4,319.1 1219.4,331.1" fill="#2e8b57" stroke="#000" stroke-width="1.6" stroke-linejoin="miter"/>
<polygon points="1258.66,319.3 1270.66,319.3 1264.66,331.3" fill="#2e8b57" stroke="#000" stroke-width="1.6" stroke-linejoin="miter"/>
<polygon points="1303.92,319.5 1315.92,319.5 1309.92,331.5" fill="#2e8b57" stroke="#000" stroke-width="1.6" stroke-linejoin="miter"/>
<polygon points="1394.45,319.1 1406.45,319.1 1400.45,331.1" fill="#2e8b57" stroke="#000" stroke-width="1.6" stroke-linejoin="miter"/>
<polygon points="1439.72,317.3 1451.72,317.3 1445.72,329.3" fill="#2e8b57" stroke="#000" stroke-width="1.6" stroke-linejoin="miter"/>
<polygon points="1484.98,319.5 1496.98,319.5 1490.98,331.5" fill="#2e8b57" stroke="#000" stroke-width="1.6" stroke-linejoin="miter"/>
<polygon points="1530.24,333.5 1542.24,333.5 1536.24,345.5" fill="#2e8b57" stroke="#000" stroke-width="1.6" stroke-linejoin="miter"/>
<polyline points="993.08,300.9 1038.34,295.8 1083.6,303.6 1128.87,309.1 1174.13,301.8 1219.4,335 1264.66,343.4 1309.92,353.8 1400.45,343.4 1445.72,365.1 1490.98,369.6 1536.24,357.4" stroke="#8b0000" stroke-width="2.0" fill="none" stroke-linejoin="round"/>
<polygon points="987.08,294.9 999.08,294.9 993.08,306.9" fill="#8b0000" stroke="#000" stroke-width="1.6" stroke-linejoin="miter"/>
<polygon points="1032.34,289.8 1044.34,289.8 1038.34,301.8" fill="#8b0000" stroke="#000" stroke-width="1.6" stroke-linejoin="miter"/>
<polygon points="1077.6,297.6 1089.6,297.6 1083.6,309.6" fill="#8b0000" stroke="#000" stroke-width="1.6" stroke-linejoin="miter"/>
<polygon points="1122.87,303.1 1134.87,303.1 1128.87,315.1" fill="#8b0000" stroke="#000" stroke-width="1.6" stroke-linejoin="miter"/>
<polygon points="1168.13,295.8 1180.13,295.8 1174.13,307.8" fill="#8b0000" stroke="#000" stroke-width="1.6" stroke-linejoin="miter"/>
<polygon points="1213.4,329 1225.4,329 1219.4,341" fill="#8b0000" stroke="#000" stroke-width="1.6" stroke-linejoin="miter"/>
<polygon points="1258.66,337.4 1270.66,337.4 1264.66,349.4" fill="#8b0000" stroke="#000" stroke-width="1.6" stroke-linejoin="miter"/>
<polygon points="1303.92,347.8 1315.92,347.8 1309.92,359.8" fill="#8b0000" stroke="#000" stroke-width="1.6" stroke-linejoin="miter"/>
<polygon points="1394.45,337.4 1406.45,337.4 1400.45,349.4" fill="#8b0000" stroke="#000" stroke-width="1.6" stroke-linejoin="miter"/>
<polygon points="1439.72,359.1 1451.72,359.1 1445.72,371.1" fill="#8b0000" stroke="#000" stroke-width="1.6" stroke-linejoin="miter"/>
<polygon points="1484.98,363.6 1496.98,363.6 1490.98,375.6" fill="#8b0000" stroke="#000" stroke-width="1.6" stroke-linejoin="miter"/>
<polygon points="1530.24,351.4 1542.24,351.4 1536.24,363.4" fill="#8b0000" stroke="#000" stroke-width="1.6" stroke-linejoin="miter"/>
<polyline points="993.08,385.8 1038.34,382.7 1083.6,381.8 1128.87,389.1 1174.13,395.3 1219.4,392.7 1264.66,408.1 1309.92,415 1400.45,422.6 1445.72,421 1490.98,419 1536.24,428.1" stroke="#2e8b57" stroke-width="2.0" fill="none" stroke-linejoin="round" stroke-dasharray="8.2,3.6"/>
<circle cx="993.08" cy="385.8" r="5.8" fill="#2e8b57" stroke="#000" stroke-width="1.6"/>
<circle cx="1038.34" cy="382.7" r="5.8" fill="#2e8b57" stroke="#000" stroke-width="1.6"/>
<circle cx="1083.6" cy="381.8" r="5.8" fill="#2e8b57" stroke="#000" stroke-width="1.6"/>
<circle cx="1128.87" cy="389.1" r="5.8" fill="#2e8b57" stroke="#000" stroke-width="1.6"/>
<circle cx="1174.13" cy="395.3" r="5.8" fill="#2e8b57" stroke="#000" stroke-width="1.6"/>
<circle cx="1219.4" cy="392.7" r="5.8" fill="#2e8b57" stroke="#000" stroke-width="1.6"/>
<circle cx="1264.66" cy="408.1" r="5.8" fill="#2e8b57" stroke="#000" stroke-width="1.6"/>
<circle cx="1309.92" cy="415" r="5.8" fill="#2e8b57" stroke="#000" stroke-width="1.6"/>
<circle cx="1400.45" cy="422.6" r="5.8" fill="#2e8b57" stroke="#000" stroke-width="1.6"/>
<circle cx="1445.72" cy="421" r="5.8" fill="#2e8b57" stroke="#000" stroke-width="1.6"/>
<circle cx="1490.98" cy="419" r="5.8" fill="#2e8b57" stroke="#000" stroke-width="1.6"/>
<circle cx="1536.24" cy="428.1" r="5.8" fill="#2e8b57" stroke="#000" stroke-width="1.6"/>
<polyline points="993.08,370.3 1038.34,369.4 1083.6,374.5 1128.87,377.2 1174.13,371.2 1219.4,431.9 1264.66,440 1309.92,442.7 1400.45,453.4 1445.72,458.5 1490.98,449.5 1536.24,447.9" stroke="#8b0000" stroke-width="2.0" fill="none" stroke-linejoin="round"/>
<circle cx="993.08" cy="370.3" r="5.8" fill="#8b0000" stroke="#000" stroke-width="1.6"/>
<circle cx="1038.34" cy="369.4" r="5.8" fill="#8b0000" stroke="#000" stroke-width="1.6"/>
<circle cx="1083.6" cy="374.5" r="5.8" fill="#8b0000" stroke="#000" stroke-width="1.6"/>
<circle cx="1128.87" cy="377.2" r="5.8" fill="#8b0000" stroke="#000" stroke-width="1.6"/>
<circle cx="1174.13" cy="371.2" r="5.8" fill="#8b0000" stroke="#000" stroke-width="1.6"/>
<circle cx="1219.4" cy="431.9" r="5.8" fill="#8b0000" stroke="#000" stroke-width="1.6"/>
<circle cx="1264.66" cy="440" r="5.8" fill="#8b0000" stroke="#000" stroke-width="1.6"/>
<circle cx="1309.92" cy="442.7" r="5.8" fill="#8b0000" stroke="#000" stroke-width="1.6"/>
<circle cx="1400.45" cy="453.4" r="5.8" fill="#8b0000" stroke="#000" stroke-width="1.6"/>
<circle cx="1445.72" cy="458.5" r="5.8" fill="#8b0000" stroke="#000" stroke-width="1.6"/>
<circle cx="1490.98" cy="449.5" r="5.8" fill="#8b0000" stroke="#000" stroke-width="1.6"/>
<circle cx="1536.24" cy="447.9" r="5.8" fill="#8b0000" stroke="#000" stroke-width="1.6"/>
</g>
<rect x="932.3" y="6.8" width="638.2" height="475.5" fill="none" stroke="#000" stroke-width="1.6"/>
<path d="M925.9 25.85H932.3M925.9 82.9H932.3M925.9 139.95H932.3M925.9 197H932.3M925.9 254.05H932.3M925.9 311.1H932.3M925.9 368.15H932.3M925.9 425.2H932.3M925.9 482.25H932.3M1570.5 6.75H1576.9M1570.5 73.35H1576.9M1570.5 139.95H1576.9M1570.5 206.55H1576.9M1570.5 273.15H1576.9M1570.5 339.75H1576.9M1570.5 406.35H1576.9M1570.5 472.95H1576.9M962.9 482.3V488.7M1079.83 482.3V488.7M1192.99 482.3V488.7M1309.92 482.3V488.7M1426.86 482.3V488.7M1540.02 482.3V488.7" stroke="#000" stroke-width="1.6" fill="none"/>
<g style="font-family:'DejaVu Sans',sans-serif;font-size:18px" fill="#000">
<text transform="translate(920 26.35) scale(1 1.08)" y="6.56" text-anchor="end">10</text>
<text transform="translate(920 83.4) scale(1 1.08)" y="6.56" text-anchor="end">5</text>
<text transform="translate(920 140.45) scale(1 1.08)" y="6.56" text-anchor="end">0</text>
<text transform="translate(920 197.5) scale(1 1.08)" y="6.56" text-anchor="end">−5</text>
<text transform="translate(920 254.55) scale(1 1.08)" y="6.56" text-anchor="end">−10</text>
<text transform="translate(920 311.6) scale(1 1.08)" y="6.56" text-anchor="end">−15</text>
<text transform="translate(920 368.65) scale(1 1.08)" y="6.56" text-anchor="end">−20</text>
<text transform="translate(920 425.7) scale(1 1.08)" y="6.56" text-anchor="end">−25</text>
<text transform="translate(920 482.75) scale(1 1.08)" y="6.56" text-anchor="end">−30</text>
<text transform="translate(1583 7.75) scale(1 1.08)" y="6.56">40</text>
<text transform="translate(1583 74.35) scale(1 1.08)" y="6.56">20</text>
<text transform="translate(1583 140.95) scale(1 1.08)" y="6.56">0</text>
<text transform="translate(962.9 502.1) scale(1 1.08)" y="6.56" text-anchor="middle">01/05/2017</text>
<text transform="translate(1079.83 502.1) scale(1 1.08)" y="6.56" text-anchor="middle">01/06/2017</text>
<text transform="translate(1192.99 502.1) scale(1 1.08)" y="6.56" text-anchor="middle">01/07/2017</text>
<text transform="translate(1309.92 502.1) scale(1 1.08)" y="6.56" text-anchor="middle">01/08/2017</text>
<text transform="translate(1426.86 502.1) scale(1 1.08)" y="6.56" text-anchor="middle">01/09/2017</text>
<text transform="translate(1540.02 502.1) scale(1 1.08)" y="6.56" text-anchor="middle">01/10/2017</text>
</g>
<text transform="translate(869 245.55) rotate(-90)" text-anchor="middle" style="font-family:'DejaVu Serif',serif;font-size:32.5px;font-kerning:none">C-VV/VH (dB)</text>
<text transform="translate(1637.5 245.05) rotate(-90)" text-anchor="middle" style="font-family:'DejaVu Serif',serif;font-size:32.2px;font-kerning:none">Precipitation (mm)</text>
<text x="949.5" y="55.3" style="font-family:'Liberation Serif','DejaVu Serif',serif;font-size:44px">(b)</text>
</g>
<g id="panel-c">
<defs><clipPath id="clip-c"><rect x="89.1" y="563.2" width="638.8" height="476.1"/></clipPath></defs>
<path d="M89.1 599.21H727.9M89.1 662.08H727.9M89.1 724.95H727.9M89.1 787.82H727.9M89.1 850.69H727.9M89.1 913.56H727.9M89.1 976.43H727.9M232.7 563.2V1039.3M384 563.2V1039.3M530.4 563.2V1039.3M681.8 563.2V1039.3" stroke="#f5f5f5" stroke-width="1" fill="none"/>
<g clip-path="url(#clip-c)">
<rect x="235.28" y="660.25" width="4.2" height="64.7" fill="#87cefa"/>
<rect x="367.08" y="682.95" width="4.2" height="42" fill="#87cefa"/>
<rect x="503.76" y="607.05" width="4.2" height="117.9" fill="#87cefa"/>
<rect x="508.65" y="590.45" width="4.2" height="134.5" fill="#87cefa"/>
<rect x="518.41" y="607.05" width="4.2" height="117.9" fill="#87cefa"/>
<rect x="528.17" y="709.25" width="4.2" height="15.7" fill="#87cefa"/>
<rect x="542.82" y="709.25" width="4.2" height="15.7" fill="#87cefa"/>
<rect x="547.7" y="644.75" width="4.2" height="80.2" fill="#87cefa"/>
<rect x="596.51" y="689.25" width="4.2" height="35.7" fill="#87cefa"/>
<rect x="601.39" y="672.75" width="4.2" height="52.2" fill="#87cefa"/>
<rect x="606.28" y="619.85" width="4.2" height="105.1" fill="#87cefa"/>
<rect x="625.8" y="712.45" width="4.2" height="12.5" fill="#87cefa"/>
<rect x="635.56" y="716.45" width="4.2" height="8.5" fill="#87cefa"/>
<rect x="640.45" y="658.35" width="4.2" height="66.6" fill="#87cefa"/>
<rect x="645.33" y="692.35" width="4.2" height="32.6" fill="#87cefa"/>
<rect x="177.65" y="718.45" width="2.3" height="6.5" fill="#1e90ff"/>
<rect x="226.47" y="717.85" width="2.3" height="7.1" fill="#1e90ff"/>
<rect x="368.03" y="636.25" width="2.3" height="88.7" fill="#1e90ff"/>
<rect x="485.19" y="647.85" width="2.3" height="77.1" fill="#1e90ff"/>
<rect x="490.07" y="647.85" width="2.3" height="77.1" fill="#1e90ff"/>
<rect x="504.71" y="676.65" width="2.3" height="48.3" fill="#1e90ff"/>
<rect x="509.6" y="669.75" width="2.3" height="55.2" fill="#1e90ff"/>
<rect x="519.36" y="628.15" width="2.3" height="96.8" fill="#1e90ff"/>
<rect x="529.12" y="714.05" width="2.3" height="10.9" fill="#1e90ff"/>
<rect x="543.77" y="703.35" width="2.3" height="21.6" fill="#1e90ff"/>
<rect x="548.65" y="681.45" width="2.3" height="43.5" fill="#1e90ff"/>
<rect x="597.46" y="692.35" width="2.3" height="32.6" fill="#1e90ff"/>
<rect x="602.34" y="664.95" width="2.3" height="60" fill="#1e90ff"/>
<rect x="607.23" y="664.65" width="2.3" height="60.3" fill="#1e90ff"/>
<rect x="626.75" y="710.65" width="2.3" height="14.3" fill="#1e90ff"/>
<rect x="636.51" y="716.45" width="2.3" height="8.5" fill="#1e90ff"/>
<rect x="641.4" y="658.35" width="2.3" height="66.6" fill="#1e90ff"/>
<rect x="646.28" y="695.05" width="2.3" height="29.9" fill="#1e90ff"/>
<line x1="119.7" y1="724.95" x2="697.1" y2="724.95" stroke="#808080" stroke-width="1.9"/>
<path d="M139.75 845V866.9M136.15 845H143.35M136.15 866.9H143.35M169.04 846.2V873M165.44 846.2H172.64M165.44 873H172.64M198.33 841.7V865.4M194.73 841.7H201.93M194.73 865.4H201.93M227.62 862V882M224.02 862H231.22M224.02 882H231.22M256.91 846.2V893.1M253.31 846.2H260.51M253.31 893.1H260.51M286.2 840.9V885.6M282.6 840.9H289.8M282.6 885.6H289.8M315.49 853V877.4M311.89 853H319.09M311.89 877.4H319.09M344.77 861V870M341.17 861H348.37M341.17 870H348.37M374.06 856V888M370.46 856H377.66M370.46 888H377.66M403.35 856.7V890.6M399.75 856.7H406.95M399.75 890.6H406.95M432.64 855V887.2M429.04 855H436.24M429.04 887.2H436.24M461.93 852V873.3M458.33 852H465.53M458.33 873.3H465.53M491.22 832V870M487.62 832H494.82M487.62 870H494.82M520.51 845V885.3M516.91 845H524.11M516.91 885.3H524.11M549.8 861.2V875M546.2 861.2H553.4M546.2 875H553.4M579.09 849.6V881.3M575.49 849.6H582.69M575.49 881.3H582.69M608.38 827.8V869.4M604.78 827.8H611.98M604.78 869.4H611.98M637.66 845.3V882.9M634.06 845.3H641.26M634.06 882.9H641.26M696.24 856.4V885.8M692.64 856.4H699.84M692.64 885.8H699.84" stroke="#2e8b57" stroke-width="1.8" fill="none"/>
<path d="M139.75 839.7V854M136.15 839.7H143.35M136.15 854H143.35M169.04 847V863.5M165.44 847H172.64M165.44 863.5H172.64M198.33 846V863.8M194.73 846H201.93M194.73 863.8H201.93M227.62 853V865M224.02 853H231.22M224.02 865H231.22M256.91 851V864M253.31 851H260.51M253.31 864H260.51M286.2 849.9V862M282.6 849.9H289.8M282.6 862H289.8M315.49 845.8V864M311.89 845.8H319.09M311.89 864H319.09M344.77 854.7V871.4M341.17 854.7H348.37M341.17 871.4H348.37M374.06 860V868M370.46 860H377.66M370.46 868H377.66M403.35 848.4V880M399.75 848.4H406.95M399.75 880H406.95M432.64 855.9V867.5M429.04 855.9H436.24M429.04 867.5H436.24M461.93 847.2V869M458.33 847.2H465.53M458.33 869H465.53M491.22 817V826.7M487.62 817H494.82M487.62 826.7H494.82M520.51 826.8V854.3M516.91 826.8H524.11M516.91 854.3H524.11M549.8 819.4V834.5M546.2 819.4H553.4M546.2 834.5H553.4M579.09 825.3V842.1M575.49 825.3H582.69M575.49 842.1H582.69M608.38 801.6V828.1M604.78 801.6H611.98M604.78 828.1H611.98M637.66 824.6V844.8M634.06 824.6H641.26M634.06 844.8H641.26M696.24 825.7V843.2M692.64 825.7H699.84M692.64 843.2H699.84" stroke="#8b0000" stroke-width="1.8" fill="none"/>
<path d="M139.75 907.1V929.7M136.15 907.1H143.35M136.15 929.7H143.35M169.04 919.6V951.2M165.44 919.6H172.64M165.44 951.2H172.64M198.33 917.6V951.5M194.73 917.6H201.93M194.73 951.5H201.93M227.62 930.1V955.3M224.02 930.1H231.22M224.02 955.3H231.22M256.91 913.5V945.9M253.31 913.5H260.51M253.31 945.9H260.51M286.2 922V954.2M282.6 922H289.8M282.6 954.2H289.8M315.49 914.6V940.2M311.89 914.6H319.09M311.89 940.2H319.09M344.77 924V938M341.17 924H348.37M341.17 938H348.37M374.06 925V938M370.46 925H377.66M370.46 938H377.66M403.35 924.1V950.8M399.75 924.1H406.95M399.75 950.8H406.95M432.64 938V957.5M429.04 938H436.24M429.04 957.5H436.24M461.93 924.7V959.8M458.33 924.7H465.53M458.33 959.8H465.53M491.22 902.6V940.7M487.62 902.6H494.82M487.62 940.7H494.82M520.51 913V940.9M516.91 913H524.11M516.91 940.9H524.11M549.8 926.1V946.9M546.2 926.1H553.4M546.2 946.9H553.4M579.09 931.4V963.9M575.49 931.4H582.69M575.49 963.9H582.69M608.38 912V952.3M604.78 912H611.98M604.78 952.3H611.98M637.66 924.7V966.3M634.06 924.7H641.26M634.06 966.3H641.26M696.24 940.1V971.1M692.64 940.1H699.84M692.64 971.1H699.84" stroke="#2e8b57" stroke-width="1.8" fill="none"/>
<path d="M139.75 917V931.9M136.15 917H143.35M136.15 931.9H143.35M169.04 934V950.8M165.44 934H172.64M165.44 950.8H172.64M198.33 921V934M194.73 921H201.93M194.73 934H201.93M227.62 933V945M224.02 933H231.22M224.02 945H231.22M256.91 910.9V927.5M253.31 910.9H260.51M253.31 927.5H260.51M286.2 920.2V936M282.6 920.2H289.8M282.6 936H289.8M315.49 912.8V927.6M311.89 912.8H319.09M311.89 927.6H319.09M344.77 931V947.3M341.17 931H348.37M341.17 947.3H348.37M374.06 917.6V945.9M370.46 917.6H377.66M370.46 945.9H377.66M403.35 928V940M399.75 928H406.95M399.75 940H406.95M432.64 934.7V952.7M429.04 934.7H436.24M429.04 952.7H436.24M461.93 933.7V965.4M458.33 933.7H465.53M458.33 965.4H465.53M491.22 882.8V903M487.62 882.8H494.82M487.62 903H494.82M520.51 901.2V922M516.91 901.2H524.11M516.91 922H524.11M549.8 880.5V921.5M546.2 880.5H553.4M546.2 921.5H553.4M579.09 908.3V936.9M575.49 908.3H582.69M575.49 936.9H582.69M608.38 889.7V912.3M604.78 889.7H611.98M604.78 912.3H611.98M637.66 903.6V930.1M634.06 903.6H641.26M634.06 930.1H641.26M696.24 921V940.1M692.64 921H699.84M692.64 940.1H699.84" stroke="#8b0000" stroke-width="1.8" fill="none"/>
<polyline points="139.75,856 169.04,858.3 198.33,855.2 227.62,871.8 256.91,868.8 286.2,863.5 315.49,864.7 344.77,866.5 374.06,871 403.35,873.3 432.64,871 461.93,863.5 491.22,850.6 520.51,864.3 549.8,867.8 579.09,865.5 608.38,848.8 637.66,863.9 696.24,871" stroke="#2e8b57" stroke-width="2.0" fill="none" stroke-linejoin="round" stroke-dasharray="8.2,3.6"/>
<polygon points="133.75,850 145.75,850 139.75,862" fill="#2e8b57" stroke="#000" stroke-width="1.6" stroke-linejoin="miter"/>
<polygon points="163.04,852.3 175.04,852.3 169.04,864.3" fill="#2e8b57" stroke="#000" stroke-width="1.6" stroke-linejoin="miter"/>
<polygon points="192.33,849.2 204.33,849.2 198.33,861.2" fill="#2e8b57" stroke="#000" stroke-width="1.6" stroke-linejoin="miter"/>
<polygon points="221.62,865.8 233.62,865.8 227.62,877.8" fill="#2e8b57" stroke="#000" stroke-width="1.6" stroke-linejoin="miter"/>
<polygon points="250.91,862.8 262.91,862.8 256.91,874.8" fill="#2e8b57" stroke="#000" stroke-width="1.6" stroke-linejoin="miter"/>
<polygon points="280.2,857.5 292.2,857.5 286.2,869.5" fill="#2e8b57" stroke="#000" stroke-width="1.6" stroke-linejoin="miter"/>
<polygon points="309.49,858.7 321.49,858.7 315.49,870.7" fill="#2e8b57" stroke="#000" stroke-width="1.6" stroke-linejoin="miter"/>
<polygon points="338.77,860.5 350.77,860.5 344.77,872.5" fill="#2e8b57" stroke="#000" stroke-width="1.6" stroke-linejoin="miter"/>
<polygon points="368.06,865 380.06,865 374.06,877" fill="#2e8b57" stroke="#000" stroke-width="1.6" stroke-linejoin="miter"/>
<polygon points="397.35,867.3 409.35,867.3 403.35,879.3" fill="#2e8b57" stroke="#000" stroke-width="1.6" stroke-linejoin="miter"/>
<polygon points="426.64,865 438.64,865 432.64,877" fill="#2e8b57" stroke="#000" stroke-width="1.6" stroke-linejoin="miter"/>
<polygon points="455.93,857.5 467.93,857.5 461.93,869.5" fill="#2e8b57" stroke="#000" stroke-width="1.6" stroke-linejoin="miter"/>
<polygon points="485.22,844.6 497.22,844.6 491.22,856.6" fill="#2e8b57" stroke="#000" stroke-width="1.6" stroke-linejoin="miter"/>
<polygon points="514.51,858.3 526.51,858.3 520.51,870.3" fill="#2e8b57" stroke="#000" stroke-width="1.6" stroke-linejoin="miter"/>
<polygon points="543.8,861.8 555.8,861.8 549.8,873.8" fill="#2e8b57" stroke="#000" stroke-width="1.6" stroke-linejoin="miter"/>
<polygon points="573.09,859.5 585.09,859.5 579.09,871.5" fill="#2e8b57" stroke="#000" stroke-width="1.6" stroke-linejoin="miter"/>
<polygon points="602.38,842.8 614.38,842.8 608.38,854.8" fill="#2e8b57" stroke="#000" stroke-width="1.6" stroke-linejoin="miter"/>
<polygon points="631.66,857.9 643.66,857.9 637.66,869.9" fill="#2e8b57" stroke="#000" stroke-width="1.6" stroke-linejoin="miter"/>
<polygon points="690.24,865 702.24,865 696.24,877" fill="#2e8b57" stroke="#000" stroke-width="1.6" stroke-linejoin="miter"/>
<polyline points="139.75,847.7 169.04,855.7 198.33,854.9 227.62,859.8 256.91,858.3 286.2,856.8 315.49,855.7 344.77,862.8 374.06,865 403.35,864.3 432.64,862.5 461.93,858 491.22,822.8 520.51,839.2 549.8,826.5 579.09,833.4 608.38,814.6 637.66,835 696.24,835" stroke="#8b0000" stroke-width="2.0" fill="none" stroke-linejoin="round"/>
<polygon points="133.75,841.7 145.75,841.7 139.75,853.7" fill="#8b0000" stroke="#000" stroke-width="1.6" stroke-linejoin="miter"/>
<polygon points="163.04,849.7 175.04,849.7 169.04,861.7" fill="#8b0000" stroke="#000" stroke-width="1.6" stroke-linejoin="miter"/>
<polygon points="192.33,848.9 204.33,848.9 198.33,860.9" fill="#8b0000" stroke="#000" stroke-width="1.6" stroke-linejoin="miter"/>
<polygon points="221.62,853.8 233.62,853.8 227.62,865.8" fill="#8b0000" stroke="#000" stroke-width="1.6" stroke-linejoin="miter"/>
<polygon points="250.91,852.3 262.91,852.3 256.91,864.3" fill="#8b0000" stroke="#000" stroke-width="1.6" stroke-linejoin="miter"/>
<polygon points="280.2,850.8 292.2,850.8 286.2,862.8" fill="#8b0000" stroke="#000" stroke-width="1.6" stroke-linejoin="miter"/>
<polygon points="309.49,849.7 321.49,849.7 315.49,861.7" fill="#8b0000" stroke="#000" stroke-width="1.6" stroke-linejoin="miter"/>
<polygon points="338.77,856.8 350.77,856.8 344.77,868.8" fill="#8b0000" stroke="#000" stroke-width="1.6" stroke-linejoin="miter"/>
<polygon points="368.06,859 380.06,859 374.06,871" fill="#8b0000" stroke="#000" stroke-width="1.6" stroke-linejoin="miter"/>
<polygon points="397.35,858.3 409.35,858.3 403.35,870.3" fill="#8b0000" stroke="#000" stroke-width="1.6" stroke-linejoin="miter"/>
<polygon points="426.64,856.5 438.64,856.5 432.64,868.5" fill="#8b0000" stroke="#000" stroke-width="1.6" stroke-linejoin="miter"/>
<polygon points="455.93,852 467.93,852 461.93,864" fill="#8b0000" stroke="#000" stroke-width="1.6" stroke-linejoin="miter"/>
<polygon points="485.22,816.8 497.22,816.8 491.22,828.8" fill="#8b0000" stroke="#000" stroke-width="1.6" stroke-linejoin="miter"/>
<polygon points="514.51,833.2 526.51,833.2 520.51,845.2" fill="#8b0000" stroke="#000" stroke-width="1.6" stroke-linejoin="miter"/>
<polygon points="543.8,820.5 555.8,820.5 549.8,832.5" fill="#8b0000" stroke="#000" stroke-width="1.6" stroke-linejoin="miter"/>
<polygon points="573.09,827.4 585.09,827.4 579.09,839.4" fill="#8b0000" stroke="#000" stroke-width="1.6" stroke-linejoin="miter"/>
<polygon points="602.38,808.6 614.38,808.6 608.38,820.6" fill="#8b0000" stroke="#000" stroke-width="1.6" stroke-linejoin="miter"/>
<polygon points="631.66,829 643.66,829 637.66,841" fill="#8b0000" stroke="#000" stroke-width="1.6" stroke-linejoin="miter"/>
<polygon points="690.24,829 702.24,829 696.24,841" fill="#8b0000" stroke="#000" stroke-width="1.6" stroke-linejoin="miter"/>
<polyline points="139.75,918.4 169.04,935.3 198.33,934.7 227.62,943.2 256.91,929.7 286.2,938 315.49,927.4 344.77,931.2 374.06,931.6 403.35,938 432.64,947.7 461.93,942.5 491.22,920.3 520.51,926.9 549.8,936.4 579.09,947.2 608.38,928.2 637.66,945.3 696.24,955.5" stroke="#2e8b57" stroke-width="2.0" fill="none" stroke-linejoin="round" stroke-dasharray="8.2,3.6"/>
<circle cx="139.75" cy="918.4" r="5.8" fill="#2e8b57" stroke="#000" stroke-width="1.6"/>
<circle cx="169.04" cy="935.3" r="5.8" fill="#2e8b57" stroke="#000" stroke-width="1.6"/>
<circle cx="198.33" cy="934.7" r="5.8" fill="#2e8b57" stroke="#000" stroke-width="1.6"/>
<circle cx="227.62" cy="943.2" r="5.8" fill="#2e8b57" stroke="#000" stroke-width="1.6"/>
<circle cx="256.91" cy="929.7" r="5.8" fill="#2e8b57" stroke="#000" stroke-width="1.6"/>
<circle cx="286.2" cy="938" r="5.8" fill="#2e8b57" stroke="#000" stroke-width="1.6"/>
<circle cx="315.49" cy="927.4" r="5.8" fill="#2e8b57" stroke="#000" stroke-width="1.6"/>
<circle cx="344.77" cy="931.2" r="5.8" fill="#2e8b57" stroke="#000" stroke-width="1.6"/>
<circle cx="374.06" cy="931.6" r="5.8" fill="#2e8b57" stroke="#000" stroke-width="1.6"/>
<circle cx="403.35" cy="938" r="5.8" fill="#2e8b57" stroke="#000" stroke-width="1.6"/>
<circle cx="432.64" cy="947.7" r="5.8" fill="#2e8b57" stroke="#000" stroke-width="1.6"/>
<circle cx="461.93" cy="942.5" r="5.8" fill="#2e8b57" stroke="#000" stroke-width="1.6"/>
<circle cx="491.22" cy="920.3" r="5.8" fill="#2e8b57" stroke="#000" stroke-width="1.6"/>
<circle cx="520.51" cy="926.9" r="5.8" fill="#2e8b57" stroke="#000" stroke-width="1.6"/>
<circle cx="549.8" cy="936.4" r="5.8" fill="#2e8b57" stroke="#000" stroke-width="1.6"/>
<circle cx="579.09" cy="947.2" r="5.8" fill="#2e8b57" stroke="#000" stroke-width="1.6"/>
<circle cx="608.38" cy="928.2" r="5.8" fill="#2e8b57" stroke="#000" stroke-width="1.6"/>
<circle cx="637.66" cy="945.3" r="5.8" fill="#2e8b57" stroke="#000" stroke-width="1.6"/>
<circle cx="696.24" cy="955.5" r="5.8" fill="#2e8b57" stroke="#000" stroke-width="1.6"/>
<polyline points="139.75,924.7 169.04,942.2 198.33,927.4 227.62,939.2 256.91,919.2 286.2,928.2 315.49,920.2 344.77,939.2 374.06,931.6 403.35,934.2 432.64,943.7 461.93,949.7 491.22,892.9 520.51,911.5 549.8,901.2 579.09,922.6 608.38,900.9 637.66,916.6 696.24,930.6" stroke="#8b0000" stroke-width="2.0" fill="none" stroke-linejoin="round"/>
<circle cx="139.75" cy="924.7" r="5.8" fill="#8b0000" stroke="#000" stroke-width="1.6"/>
<circle cx="169.04" cy="942.2" r="5.8" fill="#8b0000" stroke="#000" stroke-width="1.6"/>
<circle cx="198.33" cy="927.4" r="5.8" fill="#8b0000" stroke="#000" stroke-width="1.6"/>
<circle cx="227.62" cy="939.2" r="5.8" fill="#8b0000" stroke="#000" stroke-width="1.6"/>
<circle cx="256.91" cy="919.2" r="5.8" fill="#8b0000" stroke="#000" stroke-width="1.6"/>
<circle cx="286.2" cy="928.2" r="5.8" fill="#8b0000" stroke="#000" stroke-width="1.6"/>
<circle cx="315.49" cy="920.2" r="5.8" fill="#8b0000" stroke="#000" stroke-width="1.6"/>
<circle cx="344.77" cy="939.2" r="5.8" fill="#8b0000" stroke="#000" stroke-width="1.6"/>
<circle cx="374.06" cy="931.6" r="5.8" fill="#8b0000" stroke="#000" stroke-width="1.6"/>
<circle cx="403.35" cy="934.2" r="5.8" fill="#8b0000" stroke="#000" stroke-width="1.6"/>
<circle cx="432.64" cy="943.7" r="5.8" fill="#8b0000" stroke="#000" stroke-width="1.6"/>
<circle cx="461.93" cy="949.7" r="5.8" fill="#8b0000" stroke="#000" stroke-width="1.6"/>
<circle cx="491.22" cy="892.9" r="5.8" fill="#8b0000" stroke="#000" stroke-width="1.6"/>
<circle cx="520.51" cy="911.5" r="5.8" fill="#8b0000" stroke="#000" stroke-width="1.6"/>
<circle cx="549.8" cy="901.2" r="5.8" fill="#8b0000" stroke="#000" stroke-width="1.6"/>
<circle cx="579.09" cy="922.6" r="5.8" fill="#8b0000" stroke="#000" stroke-width="1.6"/>
<circle cx="608.38" cy="900.9" r="5.8" fill="#8b0000" stroke="#000" stroke-width="1.6"/>
<circle cx="637.66" cy="916.6" r="5.8" fill="#8b0000" stroke="#000" stroke-width="1.6"/>
<circle cx="696.24" cy="930.6" r="5.8" fill="#8b0000" stroke="#000" stroke-width="1.6"/>
</g>
<rect x="89.1" y="563.2" width="638.8" height="476.1" fill="none" stroke="#000" stroke-width="1.6"/>
<path d="M82.7 599.21H89.1M82.7 662.08H89.1M82.7 724.95H89.1M82.7 787.82H89.1M82.7 850.69H89.1M82.7 913.56H89.1M82.7 976.43H89.1M82.7 1039.3H89.1M727.9 563.25H734.3M727.9 617.15H734.3M727.9 671.05H734.3M727.9 724.95H734.3M727.9 778.85H734.3M727.9 832.75H734.3M727.9 886.65H734.3M727.9 940.55H734.3M727.9 994.45H734.3M232.7 1039.3V1045.7M384 1039.3V1045.7M530.4 1039.3V1045.7M681.8 1039.3V1045.7" stroke="#000" stroke-width="1.6" fill="none"/>
<g style="font-family:'DejaVu Sans',sans-serif;font-size:18px" fill="#000">
<text transform="translate(76.8 599.71) scale(1 1.08)" y="6.56" text-anchor="end">10</text>
<text transform="translate(76.8 662.58) scale(1 1.08)" y="6.56" text-anchor="end">5</text>
<text transform="translate(76.8 725.45) scale(1 1.08)" y="6.56" text-anchor="end">0</text>
<text transform="translate(76.8 788.32) scale(1 1.08)" y="6.56" text-anchor="end">−5</text>
<text transform="translate(76.8 851.19) scale(1 1.08)" y="6.56" text-anchor="end">−10</text>
<text transform="translate(76.8 914.06) scale(1 1.08)" y="6.56" text-anchor="end">−15</text>
<text transform="translate(76.8 976.93) scale(1 1.08)" y="6.56" text-anchor="end">−20</text>
<text transform="translate(76.8 1039.8) scale(1 1.08)" y="6.56" text-anchor="end">−25</text>
<text transform="translate(740.4 564.25) scale(1 1.08)" y="6.56">60</text>
<text transform="translate(740.4 618.15) scale(1 1.08)" y="6.56">40</text>
<text transform="translate(740.4 672.05) scale(1 1.08)" y="6.56">20</text>
<text transform="translate(740.4 725.95) scale(1 1.08)" y="6.56">0</text>
<text transform="translate(232.7 1059.1) scale(1 1.08)" y="6.56" text-anchor="middle">01/10/2018</text>
<text transform="translate(384 1059.1) scale(1 1.08)" y="6.56" text-anchor="middle">01/11/2018</text>
<text transform="translate(530.4 1059.1) scale(1 1.08)" y="6.56" text-anchor="middle">01/12/2018</text>
<text transform="translate(681.8 1059.1) scale(1 1.08)" y="6.56" text-anchor="middle">01/01/2019</text>
</g>
<text transform="translate(26.3 802.25) rotate(-90)" text-anchor="middle" style="font-family:'DejaVu Serif',serif;font-size:32.5px;font-kerning:none">C-VV/VH (dB)</text>
<text transform="translate(795 801.75) rotate(-90)" text-anchor="middle" style="font-family:'DejaVu Serif',serif;font-size:32.2px;font-kerning:none">Precipitation (mm)</text>
<text x="102.7" y="610.8" style="font-family:'Liberation Serif','DejaVu Serif',serif;font-size:44px">(c)</text>
</g>
<g id="panel-d">
<defs><clipPath id="clip-d"><rect x="930" y="563.2" width="638.5" height="476.1"/></clipPath></defs>
<path d="M930 599.21H1568.5M930 662.08H1568.5M930 724.95H1568.5M930 787.82H1568.5M930 850.69H1568.5M930 913.56H1568.5M930 976.43H1568.5M1079.5 563.2V1039.3M1238.9 563.2V1039.3M1393.2 563.2V1039.3M1552.6 563.2V1039.3" stroke="#f5f5f5" stroke-width="1" fill="none"/>
<g clip-path="url(#clip-d)">
<rect x="1221.5" y="670.25" width="4" height="54.7" fill="#87cefa"/>
<rect x="1365.51" y="616.35" width="4" height="108.6" fill="#87cefa"/>
<rect x="1370.65" y="600.95" width="4" height="124" fill="#87cefa"/>
<rect x="1411.8" y="675.55" width="4" height="49.4" fill="#87cefa"/>
<rect x="1432.37" y="715.45" width="4" height="9.5" fill="#87cefa"/>
<rect x="1458.08" y="711.55" width="4" height="13.4" fill="#87cefa"/>
<rect x="1463.22" y="711.55" width="4" height="13.4" fill="#87cefa"/>
<rect x="1468.37" y="680.95" width="4" height="44" fill="#87cefa"/>
<rect x="1473.51" y="680.15" width="4" height="44.8" fill="#87cefa"/>
<rect x="1494.08" y="716.45" width="4" height="8.5" fill="#87cefa"/>
<rect x="1504.37" y="720.75" width="4" height="4.2" fill="#87cefa"/>
<rect x="1509.51" y="691.45" width="4" height="33.5" fill="#87cefa"/>
<rect x="1514.65" y="712.55" width="4" height="12.4" fill="#87cefa"/>
<rect x="1222.25" y="676.85" width="2.5" height="48.1" fill="#1e90ff"/>
<rect x="1350.83" y="652.85" width="2.5" height="72.1" fill="#1e90ff"/>
<rect x="1366.26" y="683.25" width="2.5" height="41.7" fill="#1e90ff"/>
<rect x="1371.4" y="677.15" width="2.5" height="47.8" fill="#1e90ff"/>
<rect x="1381.69" y="683.25" width="2.5" height="41.7" fill="#1e90ff"/>
<rect x="1407.4" y="717.35" width="2.5" height="7.6" fill="#1e90ff"/>
<rect x="1412.55" y="684.95" width="2.5" height="40" fill="#1e90ff"/>
<rect x="1458.83" y="711.55" width="2.5" height="13.4" fill="#1e90ff"/>
<rect x="1463.97" y="711.55" width="2.5" height="13.4" fill="#1e90ff"/>
<rect x="1469.12" y="677.05" width="2.5" height="47.9" fill="#1e90ff"/>
<rect x="1474.26" y="693.05" width="2.5" height="31.9" fill="#1e90ff"/>
<rect x="1494.83" y="716.45" width="2.5" height="8.5" fill="#1e90ff"/>
<rect x="1505.12" y="720.75" width="2.5" height="4.2" fill="#1e90ff"/>
<rect x="1510.26" y="691.45" width="2.5" height="33.5" fill="#1e90ff"/>
<rect x="1515.4" y="712.55" width="2.5" height="12.4" fill="#1e90ff"/>
<line x1="960.4" y1="724.95" x2="1537.9" y2="724.95" stroke="#808080" stroke-width="1.9"/>
<path d="M981.78 858V869M978.18 858H985.38M978.18 869H985.38M1012.64 852V863M1009.04 852H1016.24M1009.04 863H1016.24M1043.5 846.3V869.5M1039.9 846.3H1047.1M1039.9 869.5H1047.1M1074.36 857V870M1070.76 857H1077.96M1070.76 870H1077.96M1105.21 861.6V881M1101.62 861.6H1108.81M1101.62 881H1108.81M1136.07 861.6V870.4M1132.47 861.6H1139.67M1132.47 870.4H1139.67M1166.93 862V872M1163.33 862H1170.53M1163.33 872H1170.53M1197.79 852V864M1194.19 852H1201.39M1194.19 864H1201.39M1228.65 859V870M1225.05 859H1232.25M1225.05 870H1232.25M1259.51 853V866.2M1255.91 853H1263.11M1255.91 866.2H1263.11M1290.36 857V870.6M1286.76 857H1293.96M1286.76 870.6H1293.96M1321.22 849.2V864.6M1317.62 849.2H1324.82M1317.62 864.6H1324.82M1352.08 848.6V866.8M1348.48 848.6H1355.68M1348.48 866.8H1355.68M1382.94 851.2V869.2M1379.34 851.2H1386.54M1379.34 869.2H1386.54M1413.8 850.2V867.8M1410.2 850.2H1417.39M1410.2 867.8H1417.39M1444.65 853.9V876.7M1441.05 853.9H1448.25M1441.05 876.7H1448.25M1475.51 842.4V865.9M1471.91 842.4H1479.11M1471.91 865.9H1479.11M1506.37 858.3V880.7M1502.77 858.3H1509.97M1502.77 880.7H1509.97" stroke="#2e8b57" stroke-width="1.8" fill="none"/>
<path d="M981.78 876V886.5M978.18 876H985.38M978.18 886.5H985.38M1012.64 863V876.2M1009.04 863H1016.24M1009.04 876.2H1016.24M1043.5 870V882.3M1039.9 870H1047.1M1039.9 882.3H1047.1M1074.36 867V880.9M1070.76 867H1077.96M1070.76 880.9H1077.96M1105.21 877V887M1101.62 877H1108.81M1101.62 887H1108.81M1136.07 867V880.4M1132.47 867H1139.67M1132.47 880.4H1139.67M1166.93 870V880.9M1163.33 870H1170.53M1163.33 880.9H1170.53M1197.79 868.4V889.7M1194.19 868.4H1201.39M1194.19 889.7H1201.39M1228.65 866V876M1225.05 866H1232.25M1225.05 876H1232.25M1259.51 864V884.7M1255.91 864H1263.11M1255.91 884.7H1263.11M1290.36 876V886M1286.76 876H1293.96M1286.76 886H1293.96M1321.22 877V890.7M1317.62 877H1324.82M1317.62 890.7H1324.82M1352.08 808V821.7M1348.48 808H1355.68M1348.48 821.7H1355.68M1382.94 822.1V835.7M1379.34 822.1H1386.54M1379.34 835.7H1386.54M1413.8 817V835M1410.2 817H1417.39M1410.2 835H1417.39M1444.65 820.2V845.7M1441.05 820.2H1448.25M1441.05 845.7H1448.25M1475.51 804.6V830.4M1471.91 804.6H1479.11M1471.91 830.4H1479.11M1506.37 809V819.6M1502.77 809H1509.97M1502.77 819.6H1509.97" stroke="#8b0000" stroke-width="1.8" fill="none"/>
<path d="M981.78 971.3V995.9M978.18 971.3H985.38M978.18 995.9H985.38M1012.64 971.3V1006.4M1009.04 971.3H1016.24M1009.04 1006.4H1016.24M1043.5 948.5V987.7M1039.9 948.5H1047.1M1039.9 987.7H1047.1M1074.36 969V1010.8M1070.76 969H1077.96M1070.76 1010.8H1077.96M1105.21 979.6V1045M1101.62 979.6H1108.81M1101.62 1045H1108.81M1136.07 971.9V1002M1132.47 971.9H1139.67M1132.47 1002H1139.67M1166.93 971.3V1003.5M1163.33 971.3H1170.53M1163.33 1003.5H1170.53M1197.79 985V1009M1194.19 985H1201.39M1194.19 1009H1201.39M1228.65 974.2V1002.2M1225.05 974.2H1232.25M1225.05 1002.2H1232.25M1259.51 980.6V1008.7M1255.91 980.6H1263.11M1255.91 1008.7H1263.11M1290.36 980.6V1005.1M1286.76 980.6H1293.96M1286.76 1005.1H1293.96M1321.22 981.6V1013.7M1317.62 981.6H1324.82M1317.62 1013.7H1324.82M1352.08 943.5V964.7M1348.48 943.5H1355.68M1348.48 964.7H1355.68M1382.94 956.5V983.5M1379.34 956.5H1386.54M1379.34 983.5H1386.54M1413.8 964.8V988.7M1410.2 964.8H1417.39M1410.2 988.7H1417.39M1444.65 960.4V990.4M1441.05 960.4H1448.25M1441.05 990.4H1448.25M1475.51 926.3V946M1471.91 926.3H1479.11M1471.91 946H1479.11M1506.37 964.8V994.1M1502.77 964.8H1509.97M1502.77 994.1H1509.97" stroke="#2e8b57" stroke-width="1.8" fill="none"/>
<path d="M981.78 996.4V1015.6M978.18 996.4H985.38M978.18 1015.6H985.38M1012.64 991V1006.4M1009.04 991H1016.24M1009.04 1006.4H1016.24M1043.5 981V1014.3M1039.9 981H1047.1M1039.9 1014.3H1047.1M1074.36 990V1010.8M1070.76 990H1077.96M1070.76 1010.8H1077.96M1105.21 981V1005.6M1101.62 981H1108.81M1101.62 1005.6H1108.81M1136.07 977.5V1019.6M1132.47 977.5H1139.67M1132.47 1019.6H1139.67M1166.93 972.6V1002.9M1163.33 972.6H1170.53M1163.33 1002.9H1170.53M1197.79 997.5V1027M1194.19 997.5H1201.39M1194.19 1027H1201.39M1228.65 977V1007.7M1225.05 977H1232.25M1225.05 1007.7H1232.25M1259.51 989V1011.7M1255.91 989H1263.11M1255.91 1011.7H1263.11M1290.36 989V1011.1M1286.76 989H1293.96M1286.76 1011.1H1293.96M1321.22 1014V1029.8M1317.62 1014H1324.82M1317.62 1029.8H1324.82M1352.08 944.1V965.6M1348.48 944.1H1355.68M1348.48 965.6H1355.68M1382.94 961.5V1005.1M1379.34 961.5H1386.54M1379.34 1005.1H1386.54M1413.8 974.6V992M1410.2 974.6H1417.39M1410.2 992H1417.39M1444.65 972V989M1441.05 972H1448.25M1441.05 989H1448.25M1475.51 934V958.7M1471.91 934H1479.11M1471.91 958.7H1479.11M1506.37 966.5V985M1502.77 966.5H1509.97M1502.77 985H1509.97" stroke="#8b0000" stroke-width="1.8" fill="none"/>
<polyline points="981.78,864.2 1012.64,858.5 1043.5,859.4 1074.36,864.2 1105.21,872.1 1136.07,866.8 1166.93,867.7 1197.79,858.8 1228.65,865.4 1259.51,860.4 1290.36,864.6 1321.22,857.4 1352.08,858 1382.94,860 1413.8,859.4 1444.65,865.1 1475.51,854.3 1506.37,868.8" stroke="#2e8b57" stroke-width="2.0" fill="none" stroke-linejoin="round" stroke-dasharray="8.2,3.6"/>
<polygon points="975.78,858.2 987.78,858.2 981.78,870.2" fill="#2e8b57" stroke="#000" stroke-width="1.6" stroke-linejoin="miter"/>
<polygon points="1006.64,852.5 1018.64,852.5 1012.64,864.5" fill="#2e8b57" stroke="#000" stroke-width="1.6" stroke-linejoin="miter"/>
<polygon points="1037.5,853.4 1049.5,853.4 1043.5,865.4" fill="#2e8b57" stroke="#000" stroke-width="1.6" stroke-linejoin="miter"/>
<polygon points="1068.36,858.2 1080.36,858.2 1074.36,870.2" fill="#2e8b57" stroke="#000" stroke-width="1.6" stroke-linejoin="miter"/>
<polygon points="1099.21,866.1 1111.21,866.1 1105.21,878.1" fill="#2e8b57" stroke="#000" stroke-width="1.6" stroke-linejoin="miter"/>
<polygon points="1130.07,860.8 1142.07,860.8 1136.07,872.8" fill="#2e8b57" stroke="#000" stroke-width="1.6" stroke-linejoin="miter"/>
<polygon points="1160.93,861.7 1172.93,861.7 1166.93,873.7" fill="#2e8b57" stroke="#000" stroke-width="1.6" stroke-linejoin="miter"/>
<polygon points="1191.79,852.8 1203.79,852.8 1197.79,864.8" fill="#2e8b57" stroke="#000" stroke-width="1.6" stroke-linejoin="miter"/>
<polygon points="1222.65,859.4 1234.65,859.4 1228.65,871.4" fill="#2e8b57" stroke="#000" stroke-width="1.6" stroke-linejoin="miter"/>
<polygon points="1253.51,854.4 1265.51,854.4 1259.51,866.4" fill="#2e8b57" stroke="#000" stroke-width="1.6" stroke-linejoin="miter"/>
<polygon points="1284.36,858.6 1296.36,858.6 1290.36,870.6" fill="#2e8b57" stroke="#000" stroke-width="1.6" stroke-linejoin="miter"/>
<polygon points="1315.22,851.4 1327.22,851.4 1321.22,863.4" fill="#2e8b57" stroke="#000" stroke-width="1.6" stroke-linejoin="miter"/>
<polygon points="1346.08,852 1358.08,852 1352.08,864" fill="#2e8b57" stroke="#000" stroke-width="1.6" stroke-linejoin="miter"/>
<polygon points="1376.94,854 1388.94,854 1382.94,866" fill="#2e8b57" stroke="#000" stroke-width="1.6" stroke-linejoin="miter"/>
<polygon points="1407.8,853.4 1419.8,853.4 1413.8,865.4" fill="#2e8b57" stroke="#000" stroke-width="1.6" stroke-linejoin="miter"/>
<polygon points="1438.65,859.1 1450.65,859.1 1444.65,871.1" fill="#2e8b57" stroke="#000" stroke-width="1.6" stroke-linejoin="miter"/>
<polygon points="1469.51,848.3 1481.51,848.3 1475.51,860.3" fill="#2e8b57" stroke="#000" stroke-width="1.6" stroke-linejoin="miter"/>
<polygon points="1500.37,862.8 1512.37,862.8 1506.37,874.8" fill="#2e8b57" stroke="#000" stroke-width="1.6" stroke-linejoin="miter"/>
<polyline points="981.78,882.2 1012.64,870.3 1043.5,877.3 1074.36,874.7 1105.21,882.9 1136.07,874.7 1166.93,876.4 1197.79,878.8 1228.65,872 1259.51,875.1 1290.36,882.1 1321.22,883.1 1352.08,815.2 1382.94,828.5 1413.8,826.5 1444.65,833 1475.51,817.8 1506.37,815.1" stroke="#8b0000" stroke-width="2.0" fill="none" stroke-linejoin="round"/>
<polygon points="975.78,876.2 987.78,876.2 981.78,888.2" fill="#8b0000" stroke="#000" stroke-width="1.6" stroke-linejoin="miter"/>
<polygon points="1006.64,864.3 1018.64,864.3 1012.64,876.3" fill="#8b0000" stroke="#000" stroke-width="1.6" stroke-linejoin="miter"/>
<polygon points="1037.5,871.3 1049.5,871.3 1043.5,883.3" fill="#8b0000" stroke="#000" stroke-width="1.6" stroke-linejoin="miter"/>
<polygon points="1068.36,868.7 1080.36,868.7 1074.36,880.7" fill="#8b0000" stroke="#000" stroke-width="1.6" stroke-linejoin="miter"/>
<polygon points="1099.21,876.9 1111.21,876.9 1105.21,888.9" fill="#8b0000" stroke="#000" stroke-width="1.6" stroke-linejoin="miter"/>
<polygon points="1130.07,868.7 1142.07,868.7 1136.07,880.7" fill="#8b0000" stroke="#000" stroke-width="1.6" stroke-linejoin="miter"/>
<polygon points="1160.93,870.4 1172.93,870.4 1166.93,882.4" fill="#8b0000" stroke="#000" stroke-width="1.6" stroke-linejoin="miter"/>
<polygon points="1191.79,872.8 1203.79,872.8 1197.79,884.8" fill="#8b0000" stroke="#000" stroke-width="1.6" stroke-linejoin="miter"/>
<polygon points="1222.65,866 1234.65,866 1228.65,878" fill="#8b0000" stroke="#000" stroke-width="1.6" stroke-linejoin="miter"/>
<polygon points="1253.51,869.1 1265.51,869.1 1259.51,881.1" fill="#8b0000" stroke="#000" stroke-width="1.6" stroke-linejoin="miter"/>
<polygon points="1284.36,876.1 1296.36,876.1 1290.36,888.1" fill="#8b0000" stroke="#000" stroke-width="1.6" stroke-linejoin="miter"/>
<polygon points="1315.22,877.1 1327.22,877.1 1321.22,889.1" fill="#8b0000" stroke="#000" stroke-width="1.6" stroke-linejoin="miter"/>
<polygon points="1346.08,809.2 1358.08,809.2 1352.08,821.2" fill="#8b0000" stroke="#000" stroke-width="1.6" stroke-linejoin="miter"/>
<polygon points="1376.94,822.5 1388.94,822.5 1382.94,834.5" fill="#8b0000" stroke="#000" stroke-width="1.6" stroke-linejoin="miter"/>
<polygon points="1407.8,820.5 1419.8,820.5 1413.8,832.5" fill="#8b0000" stroke="#000" stroke-width="1.6" stroke-linejoin="miter"/>
<polygon points="1438.65,827 1450.65,827 1444.65,839" fill="#8b0000" stroke="#000" stroke-width="1.6" stroke-linejoin="miter"/>
<polygon points="1469.51,811.8 1481.51,811.8 1475.51,823.8" fill="#8b0000" stroke="#000" stroke-width="1.6" stroke-linejoin="miter"/>
<polygon points="1500.37,809.1 1512.37,809.1 1506.37,821.1" fill="#8b0000" stroke="#000" stroke-width="1.6" stroke-linejoin="miter"/>
<polyline points="981.78,984 1012.64,989.2 1043.5,968.2 1074.36,987.7 1105.21,1010.8 1136.07,987.1 1166.93,987.1 1197.79,997 1228.65,988.2 1259.51,994.3 1290.36,993.1 1321.22,999.3 1352.08,954.1 1382.94,970 1413.8,976.8 1444.65,975 1475.51,936.1 1506.37,979.6" stroke="#2e8b57" stroke-width="2.0" fill="none" stroke-linejoin="round" stroke-dasharray="8.2,3.6"/>
<circle cx="981.78" cy="984" r="5.8" fill="#2e8b57" stroke="#000" stroke-width="1.6"/>
<circle cx="1012.64" cy="989.2" r="5.8" fill="#2e8b57" stroke="#000" stroke-width="1.6"/>
<circle cx="1043.5" cy="968.2" r="5.8" fill="#2e8b57" stroke="#000" stroke-width="1.6"/>
<circle cx="1074.36" cy="987.7" r="5.8" fill="#2e8b57" stroke="#000" stroke-width="1.6"/>
<circle cx="1105.21" cy="1010.8" r="5.8" fill="#2e8b57" stroke="#000" stroke-width="1.6"/>
<circle cx="1136.07" cy="987.1" r="5.8" fill="#2e8b57" stroke="#000" stroke-width="1.6"/>
<circle cx="1166.93" cy="987.1" r="5.8" fill="#2e8b57" stroke="#000" stroke-width="1.6"/>
<circle cx="1197.79" cy="997" r="5.8" fill="#2e8b57" stroke="#000" stroke-width="1.6"/>
<circle cx="1228.65" cy="988.2" r="5.8" fill="#2e8b57" stroke="#000" stroke-width="1.6"/>
<circle cx="1259.51" cy="994.3" r="5.8" fill="#2e8b57" stroke="#000" stroke-width="1.6"/>
<circle cx="1290.36" cy="993.1" r="5.8" fill="#2e8b57" stroke="#000" stroke-width="1.6"/>
<circle cx="1321.22" cy="999.3" r="5.8" fill="#2e8b57" stroke="#000" stroke-width="1.6"/>
<circle cx="1352.08" cy="954.1" r="5.8" fill="#2e8b57" stroke="#000" stroke-width="1.6"/>
<circle cx="1382.94" cy="970" r="5.8" fill="#2e8b57" stroke="#000" stroke-width="1.6"/>
<circle cx="1413.8" cy="976.8" r="5.8" fill="#2e8b57" stroke="#000" stroke-width="1.6"/>
<circle cx="1444.65" cy="975" r="5.8" fill="#2e8b57" stroke="#000" stroke-width="1.6"/>
<circle cx="1475.51" cy="936.1" r="5.8" fill="#2e8b57" stroke="#000" stroke-width="1.6"/>
<circle cx="1506.37" cy="979.6" r="5.8" fill="#2e8b57" stroke="#000" stroke-width="1.6"/>
<polyline points="981.78,1005.9 1012.64,998.9 1043.5,998 1074.36,1000.3 1105.21,993.3 1136.07,998.5 1166.93,987.1 1197.79,1012.2 1228.65,992.3 1259.51,1000.3 1290.36,1000.1 1321.22,1021.8 1352.08,954.1 1382.94,983.2 1413.8,983.3 1444.65,980.4 1475.51,946.3 1506.37,975.7" stroke="#8b0000" stroke-width="2.0" fill="none" stroke-linejoin="round"/>
<circle cx="981.78" cy="1005.9" r="5.8" fill="#8b0000" stroke="#000" stroke-width="1.6"/>
<circle cx="1012.64" cy="998.9" r="5.8" fill="#8b0000" stroke="#000" stroke-width="1.6"/>
<circle cx="1043.5" cy="998" r="5.8" fill="#8b0000" stroke="#000" stroke-width="1.6"/>
<circle cx="1074.36" cy="1000.3" r="5.8" fill="#8b0000" stroke="#000" stroke-width="1.6"/>
<circle cx="1105.21" cy="993.3" r="5.8" fill="#8b0000" stroke="#000" stroke-width="1.6"/>
<circle cx="1136.07" cy="998.5" r="5.8" fill="#8b0000" stroke="#000" stroke-width="1.6"/>
<circle cx="1166.93" cy="987.1" r="5.8" fill="#8b0000" stroke="#000" stroke-width="1.6"/>
<circle cx="1197.79" cy="1012.2" r="5.8" fill="#8b0000" stroke="#000" stroke-width="1.6"/>
<circle cx="1228.65" cy="992.3" r="5.8" fill="#8b0000" stroke="#000" stroke-width="1.6"/>
<circle cx="1259.51" cy="1000.3" r="5.8" fill="#8b0000" stroke="#000" stroke-width="1.6"/>
<circle cx="1290.36" cy="1000.1" r="5.8" fill="#8b0000" stroke="#000" stroke-width="1.6"/>
<circle cx="1321.22" cy="1021.8" r="5.8" fill="#8b0000" stroke="#000" stroke-width="1.6"/>
<circle cx="1352.08" cy="954.1" r="5.8" fill="#8b0000" stroke="#000" stroke-width="1.6"/>
<circle cx="1382.94" cy="983.2" r="5.8" fill="#8b0000" stroke="#000" stroke-width="1.6"/>
<circle cx="1413.8" cy="983.3" r="5.8" fill="#8b0000" stroke="#000" stroke-width="1.6"/>
<circle cx="1444.65" cy="980.4" r="5.8" fill="#8b0000" stroke="#000" stroke-width="1.6"/>
<circle cx="1475.51" cy="946.3" r="5.8" fill="#8b0000" stroke="#000" stroke-width="1.6"/>
<circle cx="1506.37" cy="975.7" r="5.8" fill="#8b0000" stroke="#000" stroke-width="1.6"/>
</g>
<rect x="930" y="563.2" width="638.5" height="476.1" fill="none" stroke="#000" stroke-width="1.6"/>
<path d="M923.6 599.21H930M923.6 662.08H930M923.6 724.95H930M923.6 787.82H930M923.6 850.69H930M923.6 913.56H930M923.6 976.43H930M923.6 1039.3H930M1568.5 563.25H1574.9M1568.5 617.15H1574.9M1568.5 671.05H1574.9M1568.5 724.95H1574.9M1568.5 778.85H1574.9M1568.5 832.75H1574.9M1568.5 886.65H1574.9M1568.5 940.55H1574.9M1568.5 994.45H1574.9M1079.5 1039.3V1045.7M1238.9 1039.3V1045.7M1393.2 1039.3V1045.7M1552.6 1039.3V1045.7" stroke="#000" stroke-width="1.6" fill="none"/>
<g style="font-family:'DejaVu Sans',sans-serif;font-size:18px" fill="#000">
<text transform="translate(917.7 599.71) scale(1 1.08)" y="6.56" text-anchor="end">10</text>
<text transform="translate(917.7 662.58) scale(1 1.08)" y="6.56" text-anchor="end">5</text>
<text transform="translate(917.7 725.45) scale(1 1.08)" y="6.56" text-anchor="end">0</text>
<text transform="translate(917.7 788.32) scale(1 1.08)" y="6.56" text-anchor="end">−5</text>
<text transform="translate(917.7 851.19) scale(1 1.08)" y="6.56" text-anchor="end">−10</text>
<text transform="translate(917.7 914.06) scale(1 1.08)" y="6.56" text-anchor="end">−15</text>
<text transform="translate(917.7 976.93) scale(1 1.08)" y="6.56" text-anchor="end">−20</text>
<text transform="translate(917.7 1039.8) scale(1 1.08)" y="6.56" text-anchor="end">−25</text>
<text transform="translate(1581 564.25) scale(1 1.08)" y="6.56">60</text>
<text transform="translate(1581 618.15) scale(1 1.08)" y="6.56">40</text>
<text transform="translate(1581 672.05) scale(1 1.08)" y="6.56">20</text>
<text transform="translate(1581 725.95) scale(1 1.08)" y="6.56">0</text>
<text transform="translate(1079.5 1059.1) scale(1 1.08)" y="6.56" text-anchor="middle">01/10/2018</text>
<text transform="translate(1238.9 1059.1) scale(1 1.08)" y="6.56" text-anchor="middle">01/11/2018</text>
<text transform="translate(1393.2 1059.1) scale(1 1.08)" y="6.56" text-anchor="middle">01/12/2018</text>
<text transform="translate(1552.6 1059.1) scale(1 1.08)" y="6.56" text-anchor="middle">01/01/2019</text>
</g>
<text transform="translate(866 802.25) rotate(-90)" text-anchor="middle" style="font-family:'DejaVu Serif',serif;font-size:32.5px;font-kerning:none">C-VV/VH (dB)</text>
<text transform="translate(1635.5 801.75) rotate(-90)" text-anchor="middle" style="font-family:'DejaVu Serif',serif;font-size:32.2px;font-kerning:none">Precipitation (mm)</text>
<text x="947.8" y="611.1" style="font-family:'Liberation Serif','DejaVu Serif',serif;font-size:44px">(d)</text>
</g>
<g id="legend">
<path d="M346.3 1098.9V1131.9M339.7 1098.9H352.9M339.7 1131.9H352.9" stroke="#2e8b57" stroke-width="3" fill="none"/>
<line x1="312.8" y1="1115.4" x2="378.1" y2="1115.4" stroke="#2e8b57" stroke-width="3.4" stroke-dasharray="11.9,5.6"/>
<polygon points="335.3,1104.4 357.3,1104.4 346.3,1126.4" fill="#2e8b57" stroke="#000" stroke-width="2.8" stroke-linejoin="miter"/>
<text x="405.8" y="1127" style="font-family:'DejaVu Sans',sans-serif;font-size:33px;letter-spacing:0.2px">unburn_VV</text>
<path d="M346.3 1148.8V1181.8M339.7 1148.8H352.9M339.7 1181.8H352.9" stroke="#8b0000" stroke-width="3" fill="none"/>
<line x1="311.3" y1="1165.3" x2="381.2" y2="1165.3" stroke="#8b0000" stroke-width="3.4"/>
<polygon points="335.3,1154.3 357.3,1154.3 346.3,1176.3" fill="#8b0000" stroke="#000" stroke-width="2.8" stroke-linejoin="miter"/>
<text x="405.8" y="1176.4" style="font-family:'DejaVu Sans',sans-serif;font-size:33px;letter-spacing:0.2px">burnt_VV</text>
<path d="M690.9 1097V1130M684.3 1097H697.5M684.3 1130H697.5" stroke="#2e8b57" stroke-width="3" fill="none"/>
<line x1="657.3" y1="1113.5" x2="723" y2="1113.5" stroke="#2e8b57" stroke-width="3.4" stroke-dasharray="11.9,5.6"/>
<circle cx="690.9" cy="1113.5" r="11.4" fill="#2e8b57" stroke="#000" stroke-width="2.4"/>
<text x="749.8" y="1124.9" style="font-family:'DejaVu Sans',sans-serif;font-size:33px;letter-spacing:0.4px">unburn_VH</text>
<path d="M690.9 1147.3V1180.3M684.3 1147.3H697.5M684.3 1180.3H697.5" stroke="#8b0000" stroke-width="3" fill="none"/>
<line x1="656" y1="1163.8" x2="725.7" y2="1163.8" stroke="#8b0000" stroke-width="3.4"/>
<circle cx="690.9" cy="1163.8" r="11.4" fill="#8b0000" stroke="#000" stroke-width="2.4"/>
<text x="750.5" y="1175.3" style="font-family:'DejaVu Sans',sans-serif;font-size:33px;letter-spacing:0.4px">burnt_VH</text>
<rect x="998" y="1107.9" width="66.9" height="23.4" fill="#87cefa"/>
<rect x="998" y="1157.9" width="66.9" height="23.4" fill="#1e90ff"/>
<text x="1090" y="1131.3" style="font-family:'DejaVu Sans',sans-serif;font-size:33px;font-size:33.5px;letter-spacing:0.14px">unburn_Precipitation</text>
<text x="1090" y="1180.7" style="font-family:'DejaVu Sans',sans-serif;font-size:33px;font-size:33.5px;letter-spacing:0.14px">burnt_Precipitation</text>
</g>
</svg></body></html>
